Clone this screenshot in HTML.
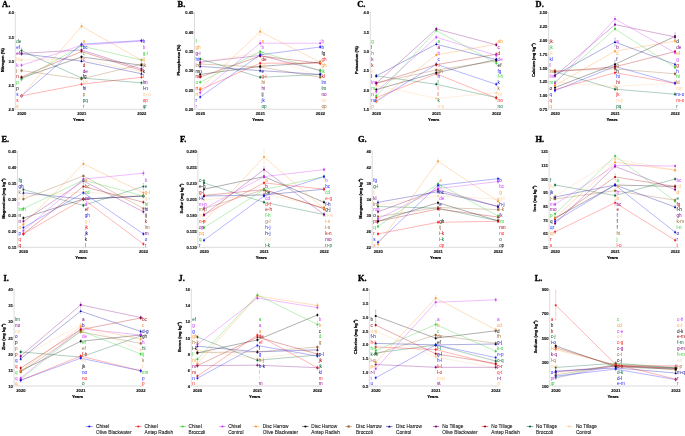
<!DOCTYPE html>
<html><head><meta charset="utf-8"><style>
html,body{margin:0;padding:0;background:#fff;}
svg{display:block;will-change:transform;}
text{font-family:"Liberation Sans",sans-serif;}
.ttl{font-family:"Liberation Serif",serif;font-weight:bold;font-size:8.4px;fill:#000;stroke:#000;stroke-width:0.35px;}
.ax{stroke:#c4c4c4;stroke-width:0.6;fill:none;}
.tk{font-size:4.1px;font-weight:bold;fill:#111;stroke:#111;stroke-width:0.12px;}
.yt{font-size:4.05px;font-weight:bold;fill:#000;stroke:#000;stroke-width:0.22px;}
.ln{fill:none;stroke-width:0.45;stroke-opacity:0.7;}
.eb{fill:none;stroke-width:0.35;stroke-opacity:0.6;}
.lb{font-size:4.6px;}
.yrs{font-size:4.2px;}
.lg{font-size:4.75px;fill:#111;stroke:#111;stroke-width:0.08px;}
</style></head><body>
<svg width="685" height="436" viewBox="0 0 685 436">
<rect width="685" height="436" fill="#fff"/>
<text x="2.1" y="6.5" class="ttl">A.</text>
<path d="M15.3 12.0V109.3H145.3" class="ax"/>
<path d="M14.3 12.50H15.3" class="ax"/>
<text transform="translate(14.10 14.30)" class="tk" text-anchor="end">4.0</text>
<path d="M14.3 36.70H15.3" class="ax"/>
<text transform="translate(14.10 38.50)" class="tk" text-anchor="end">3.5</text>
<path d="M14.3 60.90H15.3" class="ax"/>
<text transform="translate(14.10 62.70)" class="tk" text-anchor="end">3.0</text>
<path d="M14.3 85.10H15.3" class="ax"/>
<text transform="translate(14.10 86.90)" class="tk" text-anchor="end">2.5</text>
<path d="M14.3 109.30H15.3" class="ax"/>
<text transform="translate(14.10 111.10)" class="tk" text-anchor="end">2.0</text>
<path d="M21.5 109.3V110.3" class="ax"/>
<text x="21.70" y="115.00" class="tk" text-anchor="middle">2020</text>
<path d="M81.5 109.3V110.3" class="ax"/>
<text x="81.70" y="115.00" class="tk" text-anchor="middle">2021</text>
<path d="M141.5 109.3V110.3" class="ax"/>
<text x="141.70" y="115.00" class="tk" text-anchor="middle">2022</text>
<text x="78.7" y="120.70" class="yt yrs" text-anchor="middle">Years</text>
<text transform="translate(3.75 60.1) rotate(-90)" class="yt" text-anchor="middle">Nitrogen (%)</text>
<polyline points="21.5,60.0 81.5,59.0 141.5,71.7" stroke="#ffcc99" class="ln"/>
<polyline points="21.5,70.6 81.5,79.0 141.5,64.3" stroke="#996633" class="ln"/>
<polyline points="21.5,50.6 81.5,78.0 141.5,82.8" stroke="#006633" class="ln"/>
<polyline points="21.5,53.7 81.5,61.1 141.5,73.8" stroke="#000099" class="ln"/>
<polyline points="21.5,53.4 81.5,50.0 141.5,69.0" stroke="#800080" class="ln"/>
<polyline points="21.5,77.0 81.5,51.5 141.5,70.5" stroke="#b30000" class="ln"/>
<polyline points="21.5,78.0 81.5,56.9 141.5,65.3" stroke="#000000" class="ln"/>
<polyline points="21.5,79.5 81.5,46.0 141.5,60.0" stroke="#33cc33" class="ln"/>
<polyline points="21.5,65.3 81.5,45.3 141.5,41.1" stroke="#cc33ff" class="ln"/>
<polyline points="21.5,95.9 81.5,84.3 141.5,77.3" stroke="#ff1a1a" class="ln"/>
<polyline points="21.5,95.9 81.5,44.2 141.5,40.5" stroke="#1a1aff" class="ln"/>
<polyline points="21.5,95.9 81.5,26.3 141.5,60.1" stroke="#ff9933" class="ln"/>
<path d="M21.5 58.4V61.6M20.9 58.4H22.1M20.9 61.6H22.1" stroke="#ffcc99" class="eb"/>
<circle cx="21.5" cy="60.0" r="1.05" fill="#ffcc99"/>
<path d="M81.5 57.4V60.6M80.9 57.4H82.1M80.9 60.6H82.1" stroke="#ffcc99" class="eb"/>
<circle cx="81.5" cy="59.0" r="1.05" fill="#ffcc99"/>
<path d="M141.5 70.1V73.3M140.9 70.1H142.1M140.9 73.3H142.1" stroke="#ffcc99" class="eb"/>
<circle cx="141.5" cy="71.7" r="1.05" fill="#ffcc99"/>
<path d="M21.5 69.0V72.2M20.9 69.0H22.1M20.9 72.2H22.1" stroke="#996633" class="eb"/>
<rect x="20.50" y="69.60" width="2" height="2" fill="#996633"/>
<path d="M81.5 77.4V80.6M80.9 77.4H82.1M80.9 80.6H82.1" stroke="#996633" class="eb"/>
<rect x="80.50" y="78.00" width="2" height="2" fill="#996633"/>
<path d="M141.5 62.7V65.9M140.9 62.7H142.1M140.9 65.9H142.1" stroke="#996633" class="eb"/>
<rect x="140.50" y="63.30" width="2" height="2" fill="#996633"/>
<path d="M21.5 48.0V53.2M20.9 48.0H22.1M20.9 53.2H22.1" stroke="#006633" class="eb"/>
<circle cx="21.5" cy="50.6" r="1.05" fill="#006633"/>
<path d="M81.5 76.4V79.6M80.9 76.4H82.1M80.9 79.6H82.1" stroke="#006633" class="eb"/>
<circle cx="81.5" cy="78.0" r="1.05" fill="#006633"/>
<path d="M141.5 81.2V84.4M140.9 81.2H142.1M140.9 84.4H142.1" stroke="#006633" class="eb"/>
<circle cx="141.5" cy="82.8" r="1.05" fill="#006633"/>
<path d="M21.5 52.1V55.3M20.9 52.1H22.1M20.9 55.3H22.1" stroke="#000099" class="eb"/>
<path d="M21.50 52.40L22.70 54.60H20.30Z" fill="#000099"/>
<path d="M81.5 59.5V62.7M80.9 59.5H82.1M80.9 62.7H82.1" stroke="#000099" class="eb"/>
<path d="M81.50 59.80L82.70 62.00H80.30Z" fill="#000099"/>
<path d="M141.5 72.2V75.4M140.9 72.2H142.1M140.9 75.4H142.1" stroke="#000099" class="eb"/>
<path d="M141.50 72.50L142.70 74.70H140.30Z" fill="#000099"/>
<path d="M21.5 51.8V55.0M20.9 51.8H22.1M20.9 55.0H22.1" stroke="#800080" class="eb"/>
<circle cx="21.5" cy="53.4" r="1.05" fill="#800080"/>
<path d="M81.5 48.4V51.6M80.9 48.4H82.1M80.9 51.6H82.1" stroke="#800080" class="eb"/>
<circle cx="81.5" cy="50.0" r="1.05" fill="#800080"/>
<path d="M141.5 67.4V70.6M140.9 67.4H142.1M140.9 70.6H142.1" stroke="#800080" class="eb"/>
<circle cx="141.5" cy="69.0" r="1.05" fill="#800080"/>
<path d="M21.5 75.4V78.6M20.9 75.4H22.1M20.9 78.6H22.1" stroke="#b30000" class="eb"/>
<circle cx="21.5" cy="77.0" r="1.05" fill="#b30000"/>
<path d="M81.5 49.9V53.1M80.9 49.9H82.1M80.9 53.1H82.1" stroke="#b30000" class="eb"/>
<circle cx="81.5" cy="51.5" r="1.05" fill="#b30000"/>
<path d="M141.5 68.9V72.1M140.9 68.9H142.1M140.9 72.1H142.1" stroke="#b30000" class="eb"/>
<circle cx="141.5" cy="70.5" r="1.05" fill="#b30000"/>
<path d="M21.5 76.4V79.6M20.9 76.4H22.1M20.9 79.6H22.1" stroke="#000000" class="eb"/>
<circle cx="21.5" cy="78.0" r="1.05" fill="#000000"/>
<path d="M81.5 55.3V58.5M80.9 55.3H82.1M80.9 58.5H82.1" stroke="#000000" class="eb"/>
<circle cx="81.5" cy="56.9" r="1.05" fill="#000000"/>
<path d="M141.5 63.7V66.9M140.9 63.7H142.1M140.9 66.9H142.1" stroke="#000000" class="eb"/>
<circle cx="141.5" cy="65.3" r="1.05" fill="#000000"/>
<path d="M21.5 77.9V81.1M20.9 77.9H22.1M20.9 81.1H22.1" stroke="#33cc33" class="eb"/>
<circle cx="21.5" cy="79.5" r="1.05" fill="#33cc33"/>
<path d="M81.5 44.4V47.6M80.9 44.4H82.1M80.9 47.6H82.1" stroke="#33cc33" class="eb"/>
<circle cx="81.5" cy="46.0" r="1.05" fill="#33cc33"/>
<path d="M141.5 58.4V61.6M140.9 58.4H142.1M140.9 61.6H142.1" stroke="#33cc33" class="eb"/>
<circle cx="141.5" cy="60.0" r="1.05" fill="#33cc33"/>
<path d="M21.5 63.7V66.9M20.9 63.7H22.1M20.9 66.9H22.1" stroke="#cc33ff" class="eb"/>
<circle cx="21.5" cy="65.3" r="1.05" fill="#cc33ff"/>
<path d="M81.5 43.7V46.9M80.9 43.7H82.1M80.9 46.9H82.1" stroke="#cc33ff" class="eb"/>
<circle cx="81.5" cy="45.3" r="1.05" fill="#cc33ff"/>
<path d="M141.5 39.5V42.7M140.9 39.5H142.1M140.9 42.7H142.1" stroke="#cc33ff" class="eb"/>
<circle cx="141.5" cy="41.1" r="1.05" fill="#cc33ff"/>
<path d="M21.5 94.3V97.5M20.9 94.3H22.1M20.9 97.5H22.1" stroke="#ff1a1a" class="eb"/>
<circle cx="21.5" cy="95.9" r="1.05" fill="#ff1a1a"/>
<path d="M81.5 82.7V85.9M80.9 82.7H82.1M80.9 85.9H82.1" stroke="#ff1a1a" class="eb"/>
<circle cx="81.5" cy="84.3" r="1.05" fill="#ff1a1a"/>
<path d="M141.5 75.7V78.9M140.9 75.7H142.1M140.9 78.9H142.1" stroke="#ff1a1a" class="eb"/>
<circle cx="141.5" cy="77.3" r="1.05" fill="#ff1a1a"/>
<path d="M21.5 94.3V97.5M20.9 94.3H22.1M20.9 97.5H22.1" stroke="#1a1aff" class="eb"/>
<circle cx="21.5" cy="95.9" r="1.05" fill="#1a1aff"/>
<path d="M81.5 42.6V45.8M80.9 42.6H82.1M80.9 45.8H82.1" stroke="#1a1aff" class="eb"/>
<circle cx="81.5" cy="44.2" r="1.05" fill="#1a1aff"/>
<path d="M141.5 38.9V42.1M140.9 38.9H142.1M140.9 42.1H142.1" stroke="#1a1aff" class="eb"/>
<circle cx="141.5" cy="40.5" r="1.05" fill="#1a1aff"/>
<path d="M21.5 94.3V97.5M20.9 94.3H22.1M20.9 97.5H22.1" stroke="#ff9933" class="eb"/>
<circle cx="21.5" cy="95.9" r="1.05" fill="#ff9933"/>
<path d="M81.5 23.3V29.3M80.9 23.3H82.1M80.9 29.3H82.1" stroke="#ff9933" class="eb"/>
<circle cx="81.5" cy="26.3" r="1.05" fill="#ff9933"/>
<path d="M141.5 58.5V61.7M140.9 58.5H142.1M140.9 61.7H142.1" stroke="#ff9933" class="eb"/>
<circle cx="141.5" cy="60.1" r="1.05" fill="#ff9933"/>
<text x="16.3" y="43.20" class="lb" fill="#006633">de</text>
<text x="16.3" y="49.08" class="lb" fill="#1a1aff">ef</text>
<text x="16.3" y="54.96" class="lb" fill="#800080">ef</text>
<text x="16.3" y="60.84" class="lb" fill="#ffcc99">hi</text>
<text x="16.3" y="66.72" class="lb" fill="#cc33ff">k</text>
<text x="16.3" y="72.60" class="lb" fill="#996633">l</text>
<text x="16.3" y="78.48" class="lb" fill="#b30000">n</text>
<text x="16.3" y="84.36" class="lb" fill="#33cc33">p</text>
<text x="16.3" y="90.24" class="lb" fill="#000000">p</text>
<text x="16.3" y="96.12" class="lb" fill="#1a1aff">s</text>
<text x="16.3" y="102.00" class="lb" fill="#ff1a1a">s</text>
<text x="16.3" y="107.88" class="lb" fill="#ff9933">s</text>
<text x="82.8" y="43.20" class="lb" fill="#ff9933">a</text>
<text x="82.8" y="49.08" class="lb" fill="#1a1aff">bc</text>
<text x="82.8" y="54.96" class="lb" fill="#33cc33">c</text>
<text x="82.8" y="60.84" class="lb" fill="#cc33ff">c</text>
<text x="82.8" y="66.72" class="lb" fill="#b30000">d</text>
<text x="82.8" y="72.60" class="lb" fill="#800080">de</text>
<text x="82.8" y="78.48" class="lb" fill="#000000">fg</text>
<text x="82.8" y="84.36" class="lb" fill="#ffcc99">f-h</text>
<text x="82.8" y="90.24" class="lb" fill="#000099">hi</text>
<text x="82.8" y="96.12" class="lb" fill="#996633">p</text>
<text x="82.8" y="102.00" class="lb" fill="#006633">pq</text>
<text x="82.8" y="107.88" class="lb" fill="#ff1a1a">r</text>
<text x="142.8" y="43.20" class="lb" fill="#1a1aff">b</text>
<text x="142.8" y="49.08" class="lb" fill="#cc33ff">b</text>
<text x="142.8" y="54.96" class="lb" fill="#33cc33">g-i</text>
<text x="142.8" y="60.84" class="lb" fill="#ff9933">ij</text>
<text x="142.8" y="66.72" class="lb" fill="#996633">jk</text>
<text x="142.8" y="72.60" class="lb" fill="#000000">k</text>
<text x="142.8" y="78.48" class="lb" fill="#ff1a1a">l</text>
<text x="142.8" y="84.36" class="lb" fill="#800080">lm</text>
<text x="142.8" y="90.24" class="lb" fill="#000099">l-n</text>
<text x="142.8" y="96.12" class="lb" fill="#ffcc99">m-o</text>
<text x="142.8" y="102.00" class="lb" fill="#ff1a1a">op</text>
<text x="142.8" y="107.88" class="lb" fill="#006633">qr</text>
<text x="177.6" y="6.5" class="ttl">B.</text>
<path d="M194.5 12.0V109.3H324.5" class="ax"/>
<path d="M193.5 12.50H194.5" class="ax"/>
<text transform="translate(193.30 14.30)" class="tk" text-anchor="end">0.45</text>
<path d="M193.5 31.86H194.5" class="ax"/>
<text transform="translate(193.30 33.66)" class="tk" text-anchor="end">0.40</text>
<path d="M193.5 51.22H194.5" class="ax"/>
<text transform="translate(193.30 53.02)" class="tk" text-anchor="end">0.35</text>
<path d="M193.5 70.58H194.5" class="ax"/>
<text transform="translate(193.30 72.38)" class="tk" text-anchor="end">0.30</text>
<path d="M193.5 89.94H194.5" class="ax"/>
<text transform="translate(193.30 91.74)" class="tk" text-anchor="end">0.25</text>
<path d="M193.5 109.30H194.5" class="ax"/>
<text transform="translate(193.30 111.10)" class="tk" text-anchor="end">0.20</text>
<path d="M200.2 109.3V110.3" class="ax"/>
<text x="200.40" y="115.00" class="tk" text-anchor="middle">2020</text>
<path d="M260.2 109.3V110.3" class="ax"/>
<text x="260.40" y="115.00" class="tk" text-anchor="middle">2021</text>
<path d="M320.2 109.3V110.3" class="ax"/>
<text x="320.40" y="115.00" class="tk" text-anchor="middle">2022</text>
<text x="257.9" y="120.70" class="yt yrs" text-anchor="middle">Years</text>
<text transform="translate(179.6 60.1) rotate(-90)" class="yt" text-anchor="middle">Phosphorus (%)</text>
<polyline points="200.2,62.2 260.2,53.0 320.2,77.0" stroke="#ffcc99" class="ln"/>
<polyline points="200.2,64.0 260.2,67.0 320.2,77.3" stroke="#996633" class="ln"/>
<polyline points="200.2,59.0 260.2,77.3 320.2,74.4" stroke="#006633" class="ln"/>
<polyline points="200.2,66.4 260.2,70.6 320.2,74.4" stroke="#000099" class="ln"/>
<polyline points="200.2,62.2 260.2,55.4 320.2,70.6" stroke="#800080" class="ln"/>
<polyline points="200.2,77.0 260.2,56.0 320.2,63.2" stroke="#b30000" class="ln"/>
<polyline points="200.2,74.4 260.2,66.4 320.2,62.2" stroke="#000000" class="ln"/>
<polyline points="200.2,82.2 260.2,51.6 320.2,70.6" stroke="#33cc33" class="ln"/>
<polyline points="200.2,89.6 260.2,63.2 320.2,63.2" stroke="#ff1a1a" class="ln"/>
<polyline points="200.2,92.7 260.2,43.2 320.2,43.2" stroke="#cc33ff" class="ln"/>
<polyline points="200.2,97.0 260.2,54.8 320.2,47.0" stroke="#1a1aff" class="ln"/>
<polyline points="200.2,88.5 260.2,31.6 320.2,62.2" stroke="#ff9933" class="ln"/>
<path d="M200.2 60.6V63.8M199.6 60.6H200.79999999999998M199.6 63.8H200.79999999999998" stroke="#ffcc99" class="eb"/>
<circle cx="200.2" cy="62.2" r="1.05" fill="#ffcc99"/>
<path d="M260.2 51.4V54.6M259.59999999999997 51.4H260.8M259.59999999999997 54.6H260.8" stroke="#ffcc99" class="eb"/>
<circle cx="260.2" cy="53.0" r="1.05" fill="#ffcc99"/>
<path d="M320.2 75.4V78.6M319.59999999999997 75.4H320.8M319.59999999999997 78.6H320.8" stroke="#ffcc99" class="eb"/>
<circle cx="320.2" cy="77.0" r="1.05" fill="#ffcc99"/>
<path d="M200.2 62.4V65.6M199.6 62.4H200.79999999999998M199.6 65.6H200.79999999999998" stroke="#996633" class="eb"/>
<rect x="199.20" y="63.00" width="2" height="2" fill="#996633"/>
<path d="M260.2 65.4V68.6M259.59999999999997 65.4H260.8M259.59999999999997 68.6H260.8" stroke="#996633" class="eb"/>
<rect x="259.20" y="66.00" width="2" height="2" fill="#996633"/>
<path d="M320.2 75.7V78.9M319.59999999999997 75.7H320.8M319.59999999999997 78.9H320.8" stroke="#996633" class="eb"/>
<rect x="319.20" y="76.30" width="2" height="2" fill="#996633"/>
<path d="M200.2 57.4V60.6M199.6 57.4H200.79999999999998M199.6 60.6H200.79999999999998" stroke="#006633" class="eb"/>
<circle cx="200.2" cy="59.0" r="1.05" fill="#006633"/>
<path d="M260.2 75.7V78.9M259.59999999999997 75.7H260.8M259.59999999999997 78.9H260.8" stroke="#006633" class="eb"/>
<circle cx="260.2" cy="77.3" r="1.05" fill="#006633"/>
<path d="M320.2 72.8V76.0M319.59999999999997 72.8H320.8M319.59999999999997 76.0H320.8" stroke="#006633" class="eb"/>
<circle cx="320.2" cy="74.4" r="1.05" fill="#006633"/>
<path d="M200.2 64.8V68.0M199.6 64.8H200.79999999999998M199.6 68.0H200.79999999999998" stroke="#000099" class="eb"/>
<path d="M200.20 65.10L201.40 67.30H199.00Z" fill="#000099"/>
<path d="M260.2 69.0V72.2M259.59999999999997 69.0H260.8M259.59999999999997 72.2H260.8" stroke="#000099" class="eb"/>
<path d="M260.20 69.30L261.40 71.50H259.00Z" fill="#000099"/>
<path d="M320.2 72.8V76.0M319.59999999999997 72.8H320.8M319.59999999999997 76.0H320.8" stroke="#000099" class="eb"/>
<path d="M320.20 73.10L321.40 75.30H319.00Z" fill="#000099"/>
<path d="M200.2 60.6V63.8M199.6 60.6H200.79999999999998M199.6 63.8H200.79999999999998" stroke="#800080" class="eb"/>
<circle cx="200.2" cy="62.2" r="1.05" fill="#800080"/>
<path d="M260.2 53.8V57.0M259.59999999999997 53.8H260.8M259.59999999999997 57.0H260.8" stroke="#800080" class="eb"/>
<circle cx="260.2" cy="55.4" r="1.05" fill="#800080"/>
<path d="M320.2 69.0V72.2M319.59999999999997 69.0H320.8M319.59999999999997 72.2H320.8" stroke="#800080" class="eb"/>
<circle cx="320.2" cy="70.6" r="1.05" fill="#800080"/>
<path d="M200.2 75.4V78.6M199.6 75.4H200.79999999999998M199.6 78.6H200.79999999999998" stroke="#b30000" class="eb"/>
<circle cx="200.2" cy="77.0" r="1.05" fill="#b30000"/>
<path d="M260.2 54.4V57.6M259.59999999999997 54.4H260.8M259.59999999999997 57.6H260.8" stroke="#b30000" class="eb"/>
<circle cx="260.2" cy="56.0" r="1.05" fill="#b30000"/>
<path d="M320.2 61.6V64.8M319.59999999999997 61.6H320.8M319.59999999999997 64.8H320.8" stroke="#b30000" class="eb"/>
<circle cx="320.2" cy="63.2" r="1.05" fill="#b30000"/>
<path d="M200.2 72.8V76.0M199.6 72.8H200.79999999999998M199.6 76.0H200.79999999999998" stroke="#000000" class="eb"/>
<circle cx="200.2" cy="74.4" r="1.05" fill="#000000"/>
<path d="M260.2 64.8V68.0M259.59999999999997 64.8H260.8M259.59999999999997 68.0H260.8" stroke="#000000" class="eb"/>
<circle cx="260.2" cy="66.4" r="1.05" fill="#000000"/>
<path d="M320.2 60.6V63.8M319.59999999999997 60.6H320.8M319.59999999999997 63.8H320.8" stroke="#000000" class="eb"/>
<circle cx="320.2" cy="62.2" r="1.05" fill="#000000"/>
<path d="M200.2 80.6V83.8M199.6 80.6H200.79999999999998M199.6 83.8H200.79999999999998" stroke="#33cc33" class="eb"/>
<circle cx="200.2" cy="82.2" r="1.05" fill="#33cc33"/>
<path d="M260.2 50.0V53.2M259.59999999999997 50.0H260.8M259.59999999999997 53.2H260.8" stroke="#33cc33" class="eb"/>
<circle cx="260.2" cy="51.6" r="1.05" fill="#33cc33"/>
<path d="M320.2 69.0V72.2M319.59999999999997 69.0H320.8M319.59999999999997 72.2H320.8" stroke="#33cc33" class="eb"/>
<circle cx="320.2" cy="70.6" r="1.05" fill="#33cc33"/>
<path d="M200.2 88.0V91.2M199.6 88.0H200.79999999999998M199.6 91.2H200.79999999999998" stroke="#ff1a1a" class="eb"/>
<circle cx="200.2" cy="89.6" r="1.05" fill="#ff1a1a"/>
<path d="M260.2 61.6V64.8M259.59999999999997 61.6H260.8M259.59999999999997 64.8H260.8" stroke="#ff1a1a" class="eb"/>
<circle cx="260.2" cy="63.2" r="1.05" fill="#ff1a1a"/>
<path d="M320.2 61.6V64.8M319.59999999999997 61.6H320.8M319.59999999999997 64.8H320.8" stroke="#ff1a1a" class="eb"/>
<circle cx="320.2" cy="63.2" r="1.05" fill="#ff1a1a"/>
<path d="M200.2 91.1V94.3M199.6 91.1H200.79999999999998M199.6 94.3H200.79999999999998" stroke="#cc33ff" class="eb"/>
<circle cx="200.2" cy="92.7" r="1.05" fill="#cc33ff"/>
<path d="M260.2 40.2V46.2M259.59999999999997 40.2H260.8M259.59999999999997 46.2H260.8" stroke="#cc33ff" class="eb"/>
<circle cx="260.2" cy="43.2" r="1.05" fill="#cc33ff"/>
<path d="M320.2 40.2V46.2M319.59999999999997 40.2H320.8M319.59999999999997 46.2H320.8" stroke="#cc33ff" class="eb"/>
<circle cx="320.2" cy="43.2" r="1.05" fill="#cc33ff"/>
<path d="M200.2 95.4V98.6M199.6 95.4H200.79999999999998M199.6 98.6H200.79999999999998" stroke="#1a1aff" class="eb"/>
<circle cx="200.2" cy="97.0" r="1.05" fill="#1a1aff"/>
<path d="M260.2 53.2V56.4M259.59999999999997 53.2H260.8M259.59999999999997 56.4H260.8" stroke="#1a1aff" class="eb"/>
<circle cx="260.2" cy="54.8" r="1.05" fill="#1a1aff"/>
<path d="M320.2 45.4V48.6M319.59999999999997 45.4H320.8M319.59999999999997 48.6H320.8" stroke="#1a1aff" class="eb"/>
<circle cx="320.2" cy="47.0" r="1.05" fill="#1a1aff"/>
<path d="M200.2 86.9V90.1M199.6 86.9H200.79999999999998M199.6 90.1H200.79999999999998" stroke="#ff9933" class="eb"/>
<circle cx="200.2" cy="88.5" r="1.05" fill="#ff9933"/>
<path d="M260.2 27.6V35.6M259.59999999999997 27.6H260.8M259.59999999999997 35.6H260.8" stroke="#ff9933" class="eb"/>
<circle cx="260.2" cy="31.6" r="1.05" fill="#ff9933"/>
<path d="M320.2 60.6V63.8M319.59999999999997 60.6H320.8M319.59999999999997 63.8H320.8" stroke="#ff9933" class="eb"/>
<circle cx="320.2" cy="62.2" r="1.05" fill="#ff9933"/>
<text x="195.5" y="43.20" class="lb" fill="#33cc33">f</text>
<text x="195.5" y="49.08" class="lb" fill="#ff9933">gh</text>
<text x="195.5" y="54.96" class="lb" fill="#800080">g-i</text>
<text x="195.5" y="60.84" class="lb" fill="#1a1aff">hi</text>
<text x="195.5" y="66.72" class="lb" fill="#996633">lm</text>
<text x="195.5" y="72.60" class="lb" fill="#000000">mn</text>
<text x="195.5" y="78.48" class="lb" fill="#b30000">mo</text>
<text x="195.5" y="84.36" class="lb" fill="#33cc33">o</text>
<text x="195.5" y="90.24" class="lb" fill="#ff1a1a">rt</text>
<text x="195.5" y="96.12" class="lb" fill="#ff9933">rt</text>
<text x="195.5" y="102.00" class="lb" fill="#1a1aff">r</text>
<text x="195.5" y="107.88" class="lb" fill="#cc33ff">r</text>
<text x="261.5" y="43.20" class="lb" fill="#ff9933">a</text>
<text x="261.5" y="49.08" class="lb" fill="#cc33ff">b</text>
<text x="261.5" y="54.96" class="lb" fill="#33cc33">c</text>
<text x="261.5" y="60.84" class="lb" fill="#b30000">de</text>
<text x="261.5" y="66.72" class="lb" fill="#ffcc99">ef</text>
<text x="261.5" y="72.60" class="lb" fill="#000099">e</text>
<text x="261.5" y="78.48" class="lb" fill="#ff1a1a">g-i</text>
<text x="261.5" y="84.36" class="lb" fill="#996633">hi</text>
<text x="261.5" y="90.24" class="lb" fill="#800080">hi</text>
<text x="261.5" y="96.12" class="lb" fill="#000000">ij</text>
<text x="261.5" y="102.00" class="lb" fill="#1a1aff">jk</text>
<text x="261.5" y="107.88" class="lb" fill="#006633">op</text>
<text x="321.5" y="43.20" class="lb" fill="#cc33ff">b</text>
<text x="321.5" y="49.08" class="lb" fill="#1a1aff">b</text>
<text x="321.5" y="54.96" class="lb" fill="#000000">fg</text>
<text x="321.5" y="60.84" class="lb" fill="#ff1a1a">gh</text>
<text x="321.5" y="66.72" class="lb" fill="#ff9933">gh</text>
<text x="321.5" y="72.60" class="lb" fill="#33cc33">jk</text>
<text x="321.5" y="78.48" class="lb" fill="#b30000">kl</text>
<text x="321.5" y="84.36" class="lb" fill="#1a1aff">lm</text>
<text x="321.5" y="90.24" class="lb" fill="#006633">lm</text>
<text x="321.5" y="96.12" class="lb" fill="#800080">no</text>
<text x="321.5" y="102.00" class="lb" fill="#ffcc99">no</text>
<text x="321.5" y="107.88" class="lb" fill="#996633">op</text>
<text x="357.3" y="6.5" class="ttl">C.</text>
<path d="M370.3 12.0V109.3H500.3" class="ax"/>
<path d="M369.3 12.50H370.3" class="ax"/>
<text transform="translate(369.10 14.30)" class="tk" text-anchor="end">4.0</text>
<path d="M369.3 31.86H370.3" class="ax"/>
<text transform="translate(369.10 33.66)" class="tk" text-anchor="end">3.5</text>
<path d="M369.3 51.22H370.3" class="ax"/>
<text transform="translate(369.10 53.02)" class="tk" text-anchor="end">3.0</text>
<path d="M369.3 70.58H370.3" class="ax"/>
<text transform="translate(369.10 72.38)" class="tk" text-anchor="end">2.5</text>
<path d="M369.3 89.94H370.3" class="ax"/>
<text transform="translate(369.10 91.74)" class="tk" text-anchor="end">2.0</text>
<path d="M369.3 109.30H370.3" class="ax"/>
<text transform="translate(369.10 111.10)" class="tk" text-anchor="end">1.5</text>
<path d="M376.3 109.3V110.3" class="ax"/>
<text x="376.50" y="115.00" class="tk" text-anchor="middle">2020</text>
<path d="M436.3 109.3V110.3" class="ax"/>
<text x="436.50" y="115.00" class="tk" text-anchor="middle">2021</text>
<path d="M496.3 109.3V110.3" class="ax"/>
<text x="496.50" y="115.00" class="tk" text-anchor="middle">2022</text>
<text x="433.7" y="120.70" class="yt yrs" text-anchor="middle">Years</text>
<text transform="translate(358.2 60.1) rotate(-90)" class="yt" text-anchor="middle">Potassium (%)</text>
<polyline points="376.3,85.4 436.3,98.4 496.3,92.7" stroke="#ffcc99" class="ln"/>
<polyline points="376.3,75.9 436.3,84.3 496.3,97.6" stroke="#006633" class="ln"/>
<polyline points="376.3,97.6 436.3,73.8 496.3,98.0" stroke="#ff1a1a" class="ln"/>
<polyline points="376.3,101.2 436.3,64.3 496.3,84.3" stroke="#1a1aff" class="ln"/>
<polyline points="376.3,83.0 436.3,70.0 496.3,61.0" stroke="#996633" class="ln"/>
<polyline points="376.3,83.3 436.3,64.7 496.3,54.2" stroke="#b30000" class="ln"/>
<polyline points="376.3,89.6 436.3,72.7 496.3,59.6" stroke="#000000" class="ln"/>
<polyline points="376.3,75.9 436.3,44.2 496.3,59.6" stroke="#000099" class="ln"/>
<polyline points="376.3,101.5 436.3,55.0 496.3,44.2" stroke="#ff9933" class="ln"/>
<polyline points="376.3,91.7 436.3,37.3 496.3,55.4" stroke="#cc33ff" class="ln"/>
<polyline points="376.3,95.9 436.3,30.5 496.3,63.2" stroke="#33cc33" class="ln"/>
<polyline points="376.3,83.3 436.3,28.9 496.3,44.9" stroke="#800080" class="ln"/>
<path d="M376.3 83.8V87.0M375.7 83.8H376.90000000000003M375.7 87.0H376.90000000000003" stroke="#ffcc99" class="eb"/>
<circle cx="376.3" cy="85.4" r="1.05" fill="#ffcc99"/>
<path d="M436.3 96.8V100.0M435.7 96.8H436.90000000000003M435.7 100.0H436.90000000000003" stroke="#ffcc99" class="eb"/>
<circle cx="436.3" cy="98.4" r="1.05" fill="#ffcc99"/>
<path d="M496.3 91.1V94.3M495.7 91.1H496.90000000000003M495.7 94.3H496.90000000000003" stroke="#ffcc99" class="eb"/>
<circle cx="496.3" cy="92.7" r="1.05" fill="#ffcc99"/>
<path d="M376.3 74.3V77.5M375.7 74.3H376.90000000000003M375.7 77.5H376.90000000000003" stroke="#006633" class="eb"/>
<circle cx="376.3" cy="75.9" r="1.05" fill="#006633"/>
<path d="M436.3 82.7V85.9M435.7 82.7H436.90000000000003M435.7 85.9H436.90000000000003" stroke="#006633" class="eb"/>
<circle cx="436.3" cy="84.3" r="1.05" fill="#006633"/>
<path d="M496.3 96.0V99.2M495.7 96.0H496.90000000000003M495.7 99.2H496.90000000000003" stroke="#006633" class="eb"/>
<circle cx="496.3" cy="97.6" r="1.05" fill="#006633"/>
<path d="M376.3 96.0V99.2M375.7 96.0H376.90000000000003M375.7 99.2H376.90000000000003" stroke="#ff1a1a" class="eb"/>
<circle cx="376.3" cy="97.6" r="1.05" fill="#ff1a1a"/>
<path d="M436.3 72.2V75.4M435.7 72.2H436.90000000000003M435.7 75.4H436.90000000000003" stroke="#ff1a1a" class="eb"/>
<circle cx="436.3" cy="73.8" r="1.05" fill="#ff1a1a"/>
<path d="M496.3 96.4V99.6M495.7 96.4H496.90000000000003M495.7 99.6H496.90000000000003" stroke="#ff1a1a" class="eb"/>
<circle cx="496.3" cy="98.0" r="1.05" fill="#ff1a1a"/>
<path d="M376.3 99.6V102.8M375.7 99.6H376.90000000000003M375.7 102.8H376.90000000000003" stroke="#1a1aff" class="eb"/>
<circle cx="376.3" cy="101.2" r="1.05" fill="#1a1aff"/>
<path d="M436.3 62.7V65.9M435.7 62.7H436.90000000000003M435.7 65.9H436.90000000000003" stroke="#1a1aff" class="eb"/>
<circle cx="436.3" cy="64.3" r="1.05" fill="#1a1aff"/>
<path d="M496.3 82.7V85.9M495.7 82.7H496.90000000000003M495.7 85.9H496.90000000000003" stroke="#1a1aff" class="eb"/>
<circle cx="496.3" cy="84.3" r="1.05" fill="#1a1aff"/>
<path d="M376.3 81.4V84.6M375.7 81.4H376.90000000000003M375.7 84.6H376.90000000000003" stroke="#996633" class="eb"/>
<rect x="375.30" y="82.00" width="2" height="2" fill="#996633"/>
<path d="M436.3 68.4V71.6M435.7 68.4H436.90000000000003M435.7 71.6H436.90000000000003" stroke="#996633" class="eb"/>
<rect x="435.30" y="69.00" width="2" height="2" fill="#996633"/>
<path d="M496.3 59.4V62.6M495.7 59.4H496.90000000000003M495.7 62.6H496.90000000000003" stroke="#996633" class="eb"/>
<rect x="495.30" y="60.00" width="2" height="2" fill="#996633"/>
<path d="M376.3 81.7V84.9M375.7 81.7H376.90000000000003M375.7 84.9H376.90000000000003" stroke="#b30000" class="eb"/>
<circle cx="376.3" cy="83.3" r="1.05" fill="#b30000"/>
<path d="M436.3 63.1V66.3M435.7 63.1H436.90000000000003M435.7 66.3H436.90000000000003" stroke="#b30000" class="eb"/>
<circle cx="436.3" cy="64.7" r="1.05" fill="#b30000"/>
<path d="M496.3 52.6V55.8M495.7 52.6H496.90000000000003M495.7 55.8H496.90000000000003" stroke="#b30000" class="eb"/>
<circle cx="496.3" cy="54.2" r="1.05" fill="#b30000"/>
<path d="M376.3 88.0V91.2M375.7 88.0H376.90000000000003M375.7 91.2H376.90000000000003" stroke="#000000" class="eb"/>
<circle cx="376.3" cy="89.6" r="1.05" fill="#000000"/>
<path d="M436.3 71.1V74.3M435.7 71.1H436.90000000000003M435.7 74.3H436.90000000000003" stroke="#000000" class="eb"/>
<circle cx="436.3" cy="72.7" r="1.05" fill="#000000"/>
<path d="M496.3 58.0V61.2M495.7 58.0H496.90000000000003M495.7 61.2H496.90000000000003" stroke="#000000" class="eb"/>
<circle cx="496.3" cy="59.6" r="1.05" fill="#000000"/>
<path d="M376.3 74.3V77.5M375.7 74.3H376.90000000000003M375.7 77.5H376.90000000000003" stroke="#000099" class="eb"/>
<path d="M376.30 74.60L377.50 76.80H375.10Z" fill="#000099"/>
<path d="M436.3 42.6V45.8M435.7 42.6H436.90000000000003M435.7 45.8H436.90000000000003" stroke="#000099" class="eb"/>
<path d="M436.30 42.90L437.50 45.10H435.10Z" fill="#000099"/>
<path d="M496.3 58.0V61.2M495.7 58.0H496.90000000000003M495.7 61.2H496.90000000000003" stroke="#000099" class="eb"/>
<path d="M496.30 58.30L497.50 60.50H495.10Z" fill="#000099"/>
<path d="M376.3 99.9V103.1M375.7 99.9H376.90000000000003M375.7 103.1H376.90000000000003" stroke="#ff9933" class="eb"/>
<circle cx="376.3" cy="101.5" r="1.05" fill="#ff9933"/>
<path d="M436.3 53.4V56.6M435.7 53.4H436.90000000000003M435.7 56.6H436.90000000000003" stroke="#ff9933" class="eb"/>
<circle cx="436.3" cy="55.0" r="1.05" fill="#ff9933"/>
<path d="M496.3 42.6V45.8M495.7 42.6H496.90000000000003M495.7 45.8H496.90000000000003" stroke="#ff9933" class="eb"/>
<circle cx="496.3" cy="44.2" r="1.05" fill="#ff9933"/>
<path d="M376.3 90.1V93.3M375.7 90.1H376.90000000000003M375.7 93.3H376.90000000000003" stroke="#cc33ff" class="eb"/>
<circle cx="376.3" cy="91.7" r="1.05" fill="#cc33ff"/>
<path d="M436.3 35.7V38.9M435.7 35.7H436.90000000000003M435.7 38.9H436.90000000000003" stroke="#cc33ff" class="eb"/>
<circle cx="436.3" cy="37.3" r="1.05" fill="#cc33ff"/>
<path d="M496.3 53.8V57.0M495.7 53.8H496.90000000000003M495.7 57.0H496.90000000000003" stroke="#cc33ff" class="eb"/>
<circle cx="496.3" cy="55.4" r="1.05" fill="#cc33ff"/>
<path d="M376.3 94.3V97.5M375.7 94.3H376.90000000000003M375.7 97.5H376.90000000000003" stroke="#33cc33" class="eb"/>
<circle cx="376.3" cy="95.9" r="1.05" fill="#33cc33"/>
<path d="M436.3 28.9V32.1M435.7 28.9H436.90000000000003M435.7 32.1H436.90000000000003" stroke="#33cc33" class="eb"/>
<circle cx="436.3" cy="30.5" r="1.05" fill="#33cc33"/>
<path d="M496.3 61.6V64.8M495.7 61.6H496.90000000000003M495.7 64.8H496.90000000000003" stroke="#33cc33" class="eb"/>
<circle cx="496.3" cy="63.2" r="1.05" fill="#33cc33"/>
<path d="M376.3 81.7V84.9M375.7 81.7H376.90000000000003M375.7 84.9H376.90000000000003" stroke="#800080" class="eb"/>
<circle cx="376.3" cy="83.3" r="1.05" fill="#800080"/>
<path d="M436.3 27.3V30.5M435.7 27.3H436.90000000000003M435.7 30.5H436.90000000000003" stroke="#800080" class="eb"/>
<circle cx="436.3" cy="28.9" r="1.05" fill="#800080"/>
<path d="M496.3 43.3V46.5M495.7 43.3H496.90000000000003M495.7 46.5H496.90000000000003" stroke="#800080" class="eb"/>
<circle cx="496.3" cy="44.9" r="1.05" fill="#800080"/>
<text x="371.3" y="43.20" class="lb" fill="#33cc33">g</text>
<text x="371.3" y="49.08" class="lb" fill="#1a1aff">l</text>
<text x="371.3" y="54.96" class="lb" fill="#996633">h</text>
<text x="371.3" y="60.84" class="lb" fill="#800080">k</text>
<text x="371.3" y="66.72" class="lb" fill="#b30000">k</text>
<text x="371.3" y="72.60" class="lb" fill="#ffcc99">k</text>
<text x="371.3" y="78.48" class="lb" fill="#000000">l</text>
<text x="371.3" y="84.36" class="lb" fill="#cc33ff">lm</text>
<text x="371.3" y="90.24" class="lb" fill="#33cc33">m</text>
<text x="371.3" y="96.12" class="lb" fill="#ff1a1a">n</text>
<text x="371.3" y="102.00" class="lb" fill="#1a1aff">no</text>
<text x="371.3" y="107.88" class="lb" fill="#ff9933">p</text>
<text x="437.6" y="43.20" class="lb" fill="#33cc33">a</text>
<text x="437.6" y="49.08" class="lb" fill="#800080">a</text>
<text x="437.6" y="54.96" class="lb" fill="#cc33ff">b</text>
<text x="437.6" y="60.84" class="lb" fill="#1a1aff">c</text>
<text x="437.6" y="66.72" class="lb" fill="#ff9933">d</text>
<text x="437.6" y="72.60" class="lb" fill="#996633">gh</text>
<text x="437.6" y="78.48" class="lb" fill="#1a1aff">h</text>
<text x="437.6" y="84.36" class="lb" fill="#006633">l</text>
<text x="437.6" y="90.24" class="lb" fill="#ff1a1a">l</text>
<text x="437.6" y="96.12" class="lb" fill="#b30000">l</text>
<text x="437.6" y="102.00" class="lb" fill="#006633">k</text>
<text x="437.6" y="107.88" class="lb" fill="#ffcc99">n-p</text>
<text x="497.6" y="43.20" class="lb" fill="#ff9933">ab</text>
<text x="497.6" y="49.08" class="lb" fill="#800080">c</text>
<text x="497.6" y="54.96" class="lb" fill="#b30000">d</text>
<text x="497.6" y="60.84" class="lb" fill="#cc33ff">de</text>
<text x="497.6" y="66.72" class="lb" fill="#000000">ef</text>
<text x="497.6" y="72.60" class="lb" fill="#1a1aff">fg</text>
<text x="497.6" y="78.48" class="lb" fill="#33cc33">f-h</text>
<text x="497.6" y="84.36" class="lb" fill="#000099">k</text>
<text x="497.6" y="90.24" class="lb" fill="#996633">k</text>
<text x="497.6" y="96.12" class="lb" fill="#ffcc99">lm</text>
<text x="497.6" y="102.00" class="lb" fill="#ff1a1a">no</text>
<text x="497.6" y="107.88" class="lb" fill="#006633">no</text>
<text x="535.6" y="6.5" class="ttl">D.</text>
<path d="M548.6 12.0V109.3H678.6" class="ax"/>
<path d="M547.6 12.50H548.6" class="ax"/>
<text transform="translate(547.40 14.30)" class="tk" text-anchor="end">2.50</text>
<path d="M547.6 26.33H548.6" class="ax"/>
<text transform="translate(547.40 28.13)" class="tk" text-anchor="end">2.25</text>
<path d="M547.6 40.16H548.6" class="ax"/>
<text transform="translate(547.40 41.96)" class="tk" text-anchor="end">2.00</text>
<path d="M547.6 53.99H548.6" class="ax"/>
<text transform="translate(547.40 55.79)" class="tk" text-anchor="end">1.75</text>
<path d="M547.6 67.81H548.6" class="ax"/>
<text transform="translate(547.40 69.61)" class="tk" text-anchor="end">1.50</text>
<path d="M547.6 81.64H548.6" class="ax"/>
<text transform="translate(547.40 83.44)" class="tk" text-anchor="end">1.25</text>
<path d="M547.6 95.47H548.6" class="ax"/>
<text transform="translate(547.40 97.27)" class="tk" text-anchor="end">1.00</text>
<path d="M547.6 109.30H548.6" class="ax"/>
<text transform="translate(547.40 111.10)" class="tk" text-anchor="end">0.75</text>
<path d="M555.0 109.3V110.3" class="ax"/>
<text x="555.20" y="115.00" class="tk" text-anchor="middle">2020</text>
<path d="M615.0 109.3V110.3" class="ax"/>
<text x="615.20" y="115.00" class="tk" text-anchor="middle">2021</text>
<path d="M675.0 109.3V110.3" class="ax"/>
<text x="675.20" y="115.00" class="tk" text-anchor="middle">2022</text>
<text x="612.0" y="120.70" class="yt yrs" text-anchor="middle">Years</text>
<text transform="translate(535.4 60.1) rotate(-90)" class="yt" text-anchor="middle">Calcium (mg kg⁻¹)</text>
<polyline points="555.0,82.0 615.0,86.4 675.0,83.0" stroke="#ffcc99" class="ln"/>
<polyline points="555.0,71.7 615.0,89.2 675.0,94.2" stroke="#006633" class="ln"/>
<polyline points="555.0,89.6 615.0,72.7 675.0,83.3" stroke="#ff1a1a" class="ln"/>
<polyline points="555.0,90.6 615.0,66.4 675.0,83.3" stroke="#1a1aff" class="ln"/>
<polyline points="555.0,70.6 615.0,68.9 675.0,73.8" stroke="#996633" class="ln"/>
<polyline points="555.0,71.7 615.0,66.8 675.0,51.6" stroke="#b30000" class="ln"/>
<polyline points="555.0,87.5 615.0,64.3 675.0,36.4" stroke="#000000" class="ln"/>
<polyline points="555.0,85.4 615.0,51.2 675.0,41.1" stroke="#ff9933" class="ln"/>
<polyline points="555.0,75.2 615.0,42.1 675.0,64.3" stroke="#000099" class="ln"/>
<polyline points="555.0,82.2 615.0,28.9 675.0,67.4" stroke="#33cc33" class="ln"/>
<polyline points="555.0,75.9 615.0,24.6 675.0,36.9" stroke="#800080" class="ln"/>
<polyline points="555.0,83.3 615.0,19.0 675.0,52.7" stroke="#cc33ff" class="ln"/>
<path d="M555.0 80.4V83.6M554.4 80.4H555.6M554.4 83.6H555.6" stroke="#ffcc99" class="eb"/>
<circle cx="555.0" cy="82.0" r="1.05" fill="#ffcc99"/>
<path d="M615.0 84.8V88.0M614.4 84.8H615.6M614.4 88.0H615.6" stroke="#ffcc99" class="eb"/>
<circle cx="615.0" cy="86.4" r="1.05" fill="#ffcc99"/>
<path d="M675.0 81.4V84.6M674.4 81.4H675.6M674.4 84.6H675.6" stroke="#ffcc99" class="eb"/>
<circle cx="675.0" cy="83.0" r="1.05" fill="#ffcc99"/>
<path d="M555.0 70.1V73.3M554.4 70.1H555.6M554.4 73.3H555.6" stroke="#006633" class="eb"/>
<circle cx="555.0" cy="71.7" r="1.05" fill="#006633"/>
<path d="M615.0 87.6V90.8M614.4 87.6H615.6M614.4 90.8H615.6" stroke="#006633" class="eb"/>
<circle cx="615.0" cy="89.2" r="1.05" fill="#006633"/>
<path d="M675.0 92.6V95.8M674.4 92.6H675.6M674.4 95.8H675.6" stroke="#006633" class="eb"/>
<circle cx="675.0" cy="94.2" r="1.05" fill="#006633"/>
<path d="M555.0 88.0V91.2M554.4 88.0H555.6M554.4 91.2H555.6" stroke="#ff1a1a" class="eb"/>
<circle cx="555.0" cy="89.6" r="1.05" fill="#ff1a1a"/>
<path d="M615.0 71.1V74.3M614.4 71.1H615.6M614.4 74.3H615.6" stroke="#ff1a1a" class="eb"/>
<circle cx="615.0" cy="72.7" r="1.05" fill="#ff1a1a"/>
<path d="M675.0 81.7V84.9M674.4 81.7H675.6M674.4 84.9H675.6" stroke="#ff1a1a" class="eb"/>
<circle cx="675.0" cy="83.3" r="1.05" fill="#ff1a1a"/>
<path d="M555.0 89.0V92.2M554.4 89.0H555.6M554.4 92.2H555.6" stroke="#1a1aff" class="eb"/>
<circle cx="555.0" cy="90.6" r="1.05" fill="#1a1aff"/>
<path d="M615.0 64.8V68.0M614.4 64.8H615.6M614.4 68.0H615.6" stroke="#1a1aff" class="eb"/>
<circle cx="615.0" cy="66.4" r="1.05" fill="#1a1aff"/>
<path d="M675.0 81.7V84.9M674.4 81.7H675.6M674.4 84.9H675.6" stroke="#1a1aff" class="eb"/>
<circle cx="675.0" cy="83.3" r="1.05" fill="#1a1aff"/>
<path d="M555.0 69.0V72.2M554.4 69.0H555.6M554.4 72.2H555.6" stroke="#996633" class="eb"/>
<rect x="554.00" y="69.60" width="2" height="2" fill="#996633"/>
<path d="M615.0 67.3V70.5M614.4 67.3H615.6M614.4 70.5H615.6" stroke="#996633" class="eb"/>
<rect x="614.00" y="67.90" width="2" height="2" fill="#996633"/>
<path d="M675.0 72.2V75.4M674.4 72.2H675.6M674.4 75.4H675.6" stroke="#996633" class="eb"/>
<rect x="674.00" y="72.80" width="2" height="2" fill="#996633"/>
<path d="M555.0 70.1V73.3M554.4 70.1H555.6M554.4 73.3H555.6" stroke="#b30000" class="eb"/>
<circle cx="555.0" cy="71.7" r="1.05" fill="#b30000"/>
<path d="M615.0 65.2V68.4M614.4 65.2H615.6M614.4 68.4H615.6" stroke="#b30000" class="eb"/>
<circle cx="615.0" cy="66.8" r="1.05" fill="#b30000"/>
<path d="M675.0 50.0V53.2M674.4 50.0H675.6M674.4 53.2H675.6" stroke="#b30000" class="eb"/>
<circle cx="675.0" cy="51.6" r="1.05" fill="#b30000"/>
<path d="M555.0 85.9V89.1M554.4 85.9H555.6M554.4 89.1H555.6" stroke="#000000" class="eb"/>
<circle cx="555.0" cy="87.5" r="1.05" fill="#000000"/>
<path d="M615.0 60.3V68.3M614.4 60.3H615.6M614.4 68.3H615.6" stroke="#000000" class="eb"/>
<circle cx="615.0" cy="64.3" r="1.05" fill="#000000"/>
<path d="M675.0 32.9V39.9M674.4 32.9H675.6M674.4 39.9H675.6" stroke="#000000" class="eb"/>
<circle cx="675.0" cy="36.4" r="1.05" fill="#000000"/>
<path d="M555.0 83.8V87.0M554.4 83.8H555.6M554.4 87.0H555.6" stroke="#ff9933" class="eb"/>
<circle cx="555.0" cy="85.4" r="1.05" fill="#ff9933"/>
<path d="M615.0 49.6V52.8M614.4 49.6H615.6M614.4 52.8H615.6" stroke="#ff9933" class="eb"/>
<circle cx="615.0" cy="51.2" r="1.05" fill="#ff9933"/>
<path d="M675.0 39.5V42.7M674.4 39.5H675.6M674.4 42.7H675.6" stroke="#ff9933" class="eb"/>
<circle cx="675.0" cy="41.1" r="1.05" fill="#ff9933"/>
<path d="M555.0 73.6V76.8M554.4 73.6H555.6M554.4 76.8H555.6" stroke="#000099" class="eb"/>
<path d="M555.00 73.90L556.20 76.10H553.80Z" fill="#000099"/>
<path d="M615.0 38.1V46.1M614.4 38.1H615.6M614.4 46.1H615.6" stroke="#000099" class="eb"/>
<path d="M615.00 40.80L616.20 43.00H613.80Z" fill="#000099"/>
<path d="M675.0 62.7V65.9M674.4 62.7H675.6M674.4 65.9H675.6" stroke="#000099" class="eb"/>
<path d="M675.00 63.00L676.20 65.20H673.80Z" fill="#000099"/>
<path d="M555.0 80.6V83.8M554.4 80.6H555.6M554.4 83.8H555.6" stroke="#33cc33" class="eb"/>
<circle cx="555.0" cy="82.2" r="1.05" fill="#33cc33"/>
<path d="M615.0 27.3V30.5M614.4 27.3H615.6M614.4 30.5H615.6" stroke="#33cc33" class="eb"/>
<circle cx="615.0" cy="28.9" r="1.05" fill="#33cc33"/>
<path d="M675.0 65.8V69.0M674.4 65.8H675.6M674.4 69.0H675.6" stroke="#33cc33" class="eb"/>
<circle cx="675.0" cy="67.4" r="1.05" fill="#33cc33"/>
<path d="M555.0 74.3V77.5M554.4 74.3H555.6M554.4 77.5H555.6" stroke="#800080" class="eb"/>
<circle cx="555.0" cy="75.9" r="1.05" fill="#800080"/>
<path d="M615.0 23.0V26.2M614.4 23.0H615.6M614.4 26.2H615.6" stroke="#800080" class="eb"/>
<circle cx="615.0" cy="24.6" r="1.05" fill="#800080"/>
<path d="M675.0 35.3V38.5M674.4 35.3H675.6M674.4 38.5H675.6" stroke="#800080" class="eb"/>
<circle cx="675.0" cy="36.9" r="1.05" fill="#800080"/>
<path d="M555.0 81.7V84.9M554.4 81.7H555.6M554.4 84.9H555.6" stroke="#cc33ff" class="eb"/>
<circle cx="555.0" cy="83.3" r="1.05" fill="#cc33ff"/>
<path d="M615.0 16.5V21.5M614.4 16.5H615.6M614.4 21.5H615.6" stroke="#cc33ff" class="eb"/>
<circle cx="615.0" cy="19.0" r="1.05" fill="#cc33ff"/>
<path d="M675.0 51.1V54.3M674.4 51.1H675.6M674.4 54.3H675.6" stroke="#cc33ff" class="eb"/>
<circle cx="675.0" cy="52.7" r="1.05" fill="#cc33ff"/>
<text x="549.6" y="43.20" class="lb" fill="#b30000">jk</text>
<text x="549.6" y="49.08" class="lb" fill="#33cc33">jk</text>
<text x="549.6" y="54.96" class="lb" fill="#ffcc99">jk</text>
<text x="549.6" y="60.84" class="lb" fill="#1a1aff">kl</text>
<text x="549.6" y="66.72" class="lb" fill="#800080">l</text>
<text x="549.6" y="72.60" class="lb" fill="#996633">lm</text>
<text x="549.6" y="78.48" class="lb" fill="#cc33ff">lm</text>
<text x="549.6" y="84.36" class="lb" fill="#33cc33">m</text>
<text x="549.6" y="90.24" class="lb" fill="#000000">o</text>
<text x="549.6" y="96.12" class="lb" fill="#1a1aff">q</text>
<text x="549.6" y="102.00" class="lb" fill="#ff1a1a">q</text>
<text x="549.6" y="107.88" class="lb" fill="#ff9933">q</text>
<text x="616.3" y="43.20" class="lb" fill="#cc33ff">a</text>
<text x="616.3" y="49.08" class="lb" fill="#800080">b</text>
<text x="616.3" y="54.96" class="lb" fill="#ff9933">c</text>
<text x="616.3" y="60.84" class="lb" fill="#000099">f</text>
<text x="616.3" y="66.72" class="lb" fill="#996633">g</text>
<text x="616.3" y="72.60" class="lb" fill="#000000">h</text>
<text x="616.3" y="78.48" class="lb" fill="#1a1aff">hi</text>
<text x="616.3" y="84.36" class="lb" fill="#b30000">hi</text>
<text x="616.3" y="90.24" class="lb" fill="#996633">ij</text>
<text x="616.3" y="96.12" class="lb" fill="#ff1a1a">jk</text>
<text x="616.3" y="102.00" class="lb" fill="#ffcc99">n-p</text>
<text x="616.3" y="107.88" class="lb" fill="#006633">pq</text>
<text x="676.3" y="43.20" class="lb" fill="#000000">d</text>
<text x="676.3" y="49.08" class="lb" fill="#800080">de</text>
<text x="676.3" y="54.96" class="lb" fill="#ff9933">ef</text>
<text x="676.3" y="60.84" class="lb" fill="#cc33ff">g</text>
<text x="676.3" y="66.72" class="lb" fill="#b30000">g</text>
<text x="676.3" y="72.60" class="lb" fill="#1a1aff">h</text>
<text x="676.3" y="78.48" class="lb" fill="#33cc33">hi</text>
<text x="676.3" y="84.36" class="lb" fill="#996633">kl</text>
<text x="676.3" y="90.24" class="lb" fill="#ffcc99">mn</text>
<text x="676.3" y="96.12" class="lb" fill="#1a1aff">m-o</text>
<text x="676.3" y="102.00" class="lb" fill="#ff1a1a">m-o</text>
<text x="676.3" y="107.88" class="lb" fill="#006633">r</text>
<text x="1.5" y="141.7" class="ttl">E.</text>
<path d="M17.5 150.9V247.3H147.5" class="ax"/>
<path d="M16.5 151.40H17.5" class="ax"/>
<text transform="translate(16.30 153.20)" class="tk" text-anchor="end">0.45</text>
<path d="M16.5 167.38H17.5" class="ax"/>
<text transform="translate(16.30 169.18)" class="tk" text-anchor="end">0.40</text>
<path d="M16.5 183.37H17.5" class="ax"/>
<text transform="translate(16.30 185.17)" class="tk" text-anchor="end">0.35</text>
<path d="M16.5 199.35H17.5" class="ax"/>
<text transform="translate(16.30 201.15)" class="tk" text-anchor="end">0.30</text>
<path d="M16.5 215.33H17.5" class="ax"/>
<text transform="translate(16.30 217.13)" class="tk" text-anchor="end">0.25</text>
<path d="M16.5 231.32H17.5" class="ax"/>
<text transform="translate(16.30 233.12)" class="tk" text-anchor="end">0.20</text>
<path d="M16.5 247.30H17.5" class="ax"/>
<text transform="translate(16.30 249.10)" class="tk" text-anchor="end">0.15</text>
<path d="M23.4 247.3V248.3" class="ax"/>
<text x="23.60" y="253.00" class="tk" text-anchor="middle">2020</text>
<path d="M83.4 247.3V248.3" class="ax"/>
<text x="83.60" y="253.00" class="tk" text-anchor="middle">2021</text>
<path d="M143.4 247.3V248.3" class="ax"/>
<text x="143.60" y="253.00" class="tk" text-anchor="middle">2022</text>
<text x="80.9" y="259.30" class="yt yrs" text-anchor="middle">Years</text>
<text transform="translate(4.6 198.6) rotate(-90)" class="yt" text-anchor="middle">Magnesium (mg kg⁻¹)</text>
<polyline points="23.4,196.0 83.4,192.0 143.4,196.0" stroke="#ffcc99" class="ln"/>
<polyline points="23.4,189.6 83.4,205.4 143.4,186.5" stroke="#006633" class="ln"/>
<polyline points="23.4,192.8 83.4,199.1 143.4,196.0" stroke="#000099" class="ln"/>
<polyline points="23.4,199.1 83.4,175.9 143.4,208.6" stroke="#996633" class="ln"/>
<polyline points="23.4,218.1 83.4,199.1 143.4,196.0" stroke="#000000" class="ln"/>
<polyline points="23.4,221.3 83.4,181.0 143.4,211.8" stroke="#800080" class="ln"/>
<polyline points="23.4,233.9 83.4,186.5 143.4,202.3" stroke="#b30000" class="ln"/>
<polyline points="23.4,208.6 83.4,180.1 143.4,196.0" stroke="#33cc33" class="ln"/>
<polyline points="23.4,227.6 83.4,192.8 143.4,233.9" stroke="#1a1aff" class="ln"/>
<polyline points="23.4,233.9 83.4,199.1 143.4,244.0" stroke="#ff1a1a" class="ln"/>
<polyline points="23.4,230.7 83.4,179.1 143.4,173.2" stroke="#cc33ff" class="ln"/>
<polyline points="23.4,224.4 83.4,163.9 143.4,192.8" stroke="#ff9933" class="ln"/>
<path d="M23.4 194.4V197.6M22.799999999999997 194.4H24.0M22.799999999999997 197.6H24.0" stroke="#ffcc99" class="eb"/>
<circle cx="23.4" cy="196.0" r="1.05" fill="#ffcc99"/>
<path d="M83.4 190.4V193.6M82.80000000000001 190.4H84.0M82.80000000000001 193.6H84.0" stroke="#ffcc99" class="eb"/>
<circle cx="83.4" cy="192.0" r="1.05" fill="#ffcc99"/>
<path d="M143.4 194.4V197.6M142.8 194.4H144.0M142.8 197.6H144.0" stroke="#ffcc99" class="eb"/>
<circle cx="143.4" cy="196.0" r="1.05" fill="#ffcc99"/>
<path d="M23.4 188.0V191.2M22.799999999999997 188.0H24.0M22.799999999999997 191.2H24.0" stroke="#006633" class="eb"/>
<circle cx="23.4" cy="189.6" r="1.05" fill="#006633"/>
<path d="M83.4 203.8V207.0M82.80000000000001 203.8H84.0M82.80000000000001 207.0H84.0" stroke="#006633" class="eb"/>
<circle cx="83.4" cy="205.4" r="1.05" fill="#006633"/>
<path d="M143.4 183.5V189.5M142.8 183.5H144.0M142.8 189.5H144.0" stroke="#006633" class="eb"/>
<circle cx="143.4" cy="186.5" r="1.05" fill="#006633"/>
<path d="M23.4 191.2V194.4M22.799999999999997 191.2H24.0M22.799999999999997 194.4H24.0" stroke="#000099" class="eb"/>
<path d="M23.40 191.50L24.60 193.70H22.20Z" fill="#000099"/>
<path d="M83.4 197.5V200.7M82.80000000000001 197.5H84.0M82.80000000000001 200.7H84.0" stroke="#000099" class="eb"/>
<path d="M83.40 197.80L84.60 200.00H82.20Z" fill="#000099"/>
<path d="M143.4 194.4V197.6M142.8 194.4H144.0M142.8 197.6H144.0" stroke="#000099" class="eb"/>
<path d="M143.40 194.70L144.60 196.90H142.20Z" fill="#000099"/>
<path d="M23.4 197.5V200.7M22.799999999999997 197.5H24.0M22.799999999999997 200.7H24.0" stroke="#996633" class="eb"/>
<rect x="22.40" y="198.10" width="2" height="2" fill="#996633"/>
<path d="M83.4 174.3V177.5M82.80000000000001 174.3H84.0M82.80000000000001 177.5H84.0" stroke="#996633" class="eb"/>
<rect x="82.40" y="174.90" width="2" height="2" fill="#996633"/>
<path d="M143.4 207.0V210.2M142.8 207.0H144.0M142.8 210.2H144.0" stroke="#996633" class="eb"/>
<rect x="142.40" y="207.60" width="2" height="2" fill="#996633"/>
<path d="M23.4 216.5V219.7M22.799999999999997 216.5H24.0M22.799999999999997 219.7H24.0" stroke="#000000" class="eb"/>
<circle cx="23.4" cy="218.1" r="1.05" fill="#000000"/>
<path d="M83.4 197.5V200.7M82.80000000000001 197.5H84.0M82.80000000000001 200.7H84.0" stroke="#000000" class="eb"/>
<circle cx="83.4" cy="199.1" r="1.05" fill="#000000"/>
<path d="M143.4 194.4V197.6M142.8 194.4H144.0M142.8 197.6H144.0" stroke="#000000" class="eb"/>
<circle cx="143.4" cy="196.0" r="1.05" fill="#000000"/>
<path d="M23.4 219.7V222.9M22.799999999999997 219.7H24.0M22.799999999999997 222.9H24.0" stroke="#800080" class="eb"/>
<circle cx="23.4" cy="221.3" r="1.05" fill="#800080"/>
<path d="M83.4 179.4V182.6M82.80000000000001 179.4H84.0M82.80000000000001 182.6H84.0" stroke="#800080" class="eb"/>
<circle cx="83.4" cy="181.0" r="1.05" fill="#800080"/>
<path d="M143.4 210.2V213.4M142.8 210.2H144.0M142.8 213.4H144.0" stroke="#800080" class="eb"/>
<circle cx="143.4" cy="211.8" r="1.05" fill="#800080"/>
<path d="M23.4 232.3V235.5M22.799999999999997 232.3H24.0M22.799999999999997 235.5H24.0" stroke="#b30000" class="eb"/>
<circle cx="23.4" cy="233.9" r="1.05" fill="#b30000"/>
<path d="M83.4 183.5V189.5M82.80000000000001 183.5H84.0M82.80000000000001 189.5H84.0" stroke="#b30000" class="eb"/>
<circle cx="83.4" cy="186.5" r="1.05" fill="#b30000"/>
<path d="M143.4 200.7V203.9M142.8 200.7H144.0M142.8 203.9H144.0" stroke="#b30000" class="eb"/>
<circle cx="143.4" cy="202.3" r="1.05" fill="#b30000"/>
<path d="M23.4 207.0V210.2M22.799999999999997 207.0H24.0M22.799999999999997 210.2H24.0" stroke="#33cc33" class="eb"/>
<circle cx="23.4" cy="208.6" r="1.05" fill="#33cc33"/>
<path d="M83.4 178.5V181.7M82.80000000000001 178.5H84.0M82.80000000000001 181.7H84.0" stroke="#33cc33" class="eb"/>
<circle cx="83.4" cy="180.1" r="1.05" fill="#33cc33"/>
<path d="M143.4 194.4V197.6M142.8 194.4H144.0M142.8 197.6H144.0" stroke="#33cc33" class="eb"/>
<circle cx="143.4" cy="196.0" r="1.05" fill="#33cc33"/>
<path d="M23.4 226.0V229.2M22.799999999999997 226.0H24.0M22.799999999999997 229.2H24.0" stroke="#1a1aff" class="eb"/>
<circle cx="23.4" cy="227.6" r="1.05" fill="#1a1aff"/>
<path d="M83.4 191.2V194.4M82.80000000000001 191.2H84.0M82.80000000000001 194.4H84.0" stroke="#1a1aff" class="eb"/>
<circle cx="83.4" cy="192.8" r="1.05" fill="#1a1aff"/>
<path d="M143.4 232.3V235.5M142.8 232.3H144.0M142.8 235.5H144.0" stroke="#1a1aff" class="eb"/>
<circle cx="143.4" cy="233.9" r="1.05" fill="#1a1aff"/>
<path d="M23.4 232.3V235.5M22.799999999999997 232.3H24.0M22.799999999999997 235.5H24.0" stroke="#ff1a1a" class="eb"/>
<circle cx="23.4" cy="233.9" r="1.05" fill="#ff1a1a"/>
<path d="M83.4 197.5V200.7M82.80000000000001 197.5H84.0M82.80000000000001 200.7H84.0" stroke="#ff1a1a" class="eb"/>
<circle cx="83.4" cy="199.1" r="1.05" fill="#ff1a1a"/>
<path d="M143.4 242.4V245.6M142.8 242.4H144.0M142.8 245.6H144.0" stroke="#ff1a1a" class="eb"/>
<circle cx="143.4" cy="244.0" r="1.05" fill="#ff1a1a"/>
<path d="M23.4 229.1V232.3M22.799999999999997 229.1H24.0M22.799999999999997 232.3H24.0" stroke="#cc33ff" class="eb"/>
<circle cx="23.4" cy="230.7" r="1.05" fill="#cc33ff"/>
<path d="M83.4 177.5V180.7M82.80000000000001 177.5H84.0M82.80000000000001 180.7H84.0" stroke="#cc33ff" class="eb"/>
<circle cx="83.4" cy="179.1" r="1.05" fill="#cc33ff"/>
<path d="M143.4 170.7V175.7M142.8 170.7H144.0M142.8 175.7H144.0" stroke="#cc33ff" class="eb"/>
<circle cx="143.4" cy="173.2" r="1.05" fill="#cc33ff"/>
<path d="M23.4 222.8V226.0M22.799999999999997 222.8H24.0M22.799999999999997 226.0H24.0" stroke="#ff9933" class="eb"/>
<circle cx="23.4" cy="224.4" r="1.05" fill="#ff9933"/>
<path d="M83.4 160.4V167.4M82.80000000000001 160.4H84.0M82.80000000000001 167.4H84.0" stroke="#ff9933" class="eb"/>
<circle cx="83.4" cy="163.9" r="1.05" fill="#ff9933"/>
<path d="M143.4 191.2V194.4M142.8 191.2H144.0M142.8 194.4H144.0" stroke="#ff9933" class="eb"/>
<circle cx="143.4" cy="192.8" r="1.05" fill="#ff9933"/>
<text x="18.5" y="182.00" class="lb" fill="#006633">fg</text>
<text x="18.5" y="187.88" class="lb" fill="#000099">gh</text>
<text x="18.5" y="193.76" class="lb" fill="#996633">k</text>
<text x="18.5" y="199.64" class="lb" fill="#ffcc99">k</text>
<text x="18.5" y="205.52" class="lb" fill="#cc33ff">l</text>
<text x="18.5" y="211.40" class="lb" fill="#33cc33">lmn</text>
<text x="18.5" y="217.28" class="lb" fill="#000000">n</text>
<text x="18.5" y="223.16" class="lb" fill="#800080">n</text>
<text x="18.5" y="229.04" class="lb" fill="#ff9933">o</text>
<text x="18.5" y="234.92" class="lb" fill="#1a1aff">p</text>
<text x="18.5" y="240.80" class="lb" fill="#ff1a1a">q</text>
<text x="18.5" y="246.68" class="lb" fill="#b30000">q</text>
<text x="84.7" y="182.00" class="lb" fill="#ff9933">a</text>
<text x="84.7" y="187.88" class="lb" fill="#996633">bc</text>
<text x="84.7" y="193.76" class="lb" fill="#33cc33">cd</text>
<text x="84.7" y="199.64" class="lb" fill="#800080">cd</text>
<text x="84.7" y="205.52" class="lb" fill="#cc33ff">d</text>
<text x="84.7" y="211.40" class="lb" fill="#b30000">ef</text>
<text x="84.7" y="217.28" class="lb" fill="#1a1aff">gh</text>
<text x="84.7" y="223.16" class="lb" fill="#ffcc99">g-i</text>
<text x="84.7" y="229.04" class="lb" fill="#ff1a1a">jk</text>
<text x="84.7" y="234.92" class="lb" fill="#000099">jk</text>
<text x="84.7" y="240.80" class="lb" fill="#000000">k</text>
<text x="84.7" y="246.68" class="lb" fill="#006633">l</text>
<text x="144.7" y="182.00" class="lb" fill="#cc33ff">b</text>
<text x="144.7" y="187.88" class="lb" fill="#006633">e</text>
<text x="144.7" y="193.76" class="lb" fill="#ff9933">g-i</text>
<text x="144.7" y="199.64" class="lb" fill="#ffcc99">g-i</text>
<text x="144.7" y="205.52" class="lb" fill="#33cc33">hi</text>
<text x="144.7" y="211.40" class="lb" fill="#000099">hi</text>
<text x="144.7" y="217.28" class="lb" fill="#000000">ij</text>
<text x="144.7" y="223.16" class="lb" fill="#b30000">k</text>
<text x="144.7" y="229.04" class="lb" fill="#996633">lm</text>
<text x="144.7" y="234.92" class="lb" fill="#800080">m</text>
<text x="144.7" y="240.80" class="lb" fill="#1a1aff">o</text>
<text x="144.7" y="246.68" class="lb" fill="#ff1a1a">r</text>
<text x="180.0" y="141.7" class="ttl">F.</text>
<path d="M197.9 150.9V247.3H327.9" class="ax"/>
<path d="M196.9 151.40H197.9" class="ax"/>
<text transform="translate(196.70 153.20)" class="tk" text-anchor="end">0.280</text>
<path d="M196.9 167.38H197.9" class="ax"/>
<text transform="translate(196.70 169.18)" class="tk" text-anchor="end">0.255</text>
<path d="M196.9 183.37H197.9" class="ax"/>
<text transform="translate(196.70 185.17)" class="tk" text-anchor="end">0.230</text>
<path d="M196.9 199.35H197.9" class="ax"/>
<text transform="translate(196.70 201.15)" class="tk" text-anchor="end">0.205</text>
<path d="M196.9 215.33H197.9" class="ax"/>
<text transform="translate(196.70 217.13)" class="tk" text-anchor="end">0.180</text>
<path d="M196.9 231.32H197.9" class="ax"/>
<text transform="translate(196.70 233.12)" class="tk" text-anchor="end">0.155</text>
<path d="M196.9 247.30H197.9" class="ax"/>
<text transform="translate(196.70 249.10)" class="tk" text-anchor="end">0.130</text>
<path d="M204.0 247.3V248.3" class="ax"/>
<text x="204.20" y="253.00" class="tk" text-anchor="middle">2020</text>
<path d="M264.0 247.3V248.3" class="ax"/>
<text x="264.20" y="253.00" class="tk" text-anchor="middle">2021</text>
<path d="M324.0 247.3V248.3" class="ax"/>
<text x="324.20" y="253.00" class="tk" text-anchor="middle">2022</text>
<text x="261.3" y="259.30" class="yt yrs" text-anchor="middle">Years</text>
<text transform="translate(182.9 198.6) rotate(-90)" class="yt" text-anchor="middle">Sulfur (mg kg⁻¹)</text>
<polyline points="204.0,200.0 264.0,194.0 324.0,207.0" stroke="#ffcc99" class="ln"/>
<polyline points="204.0,182.9 264.0,202.3 324.0,214.5" stroke="#006633" class="ln"/>
<polyline points="204.0,196.0 264.0,195.0 324.0,189.2" stroke="#000099" class="ln"/>
<polyline points="204.0,208.6 264.0,189.6 324.0,208.6" stroke="#996633" class="ln"/>
<polyline points="204.0,195.5 264.0,189.6 324.0,208.6" stroke="#b30000" class="ln"/>
<polyline points="204.0,189.2 264.0,176.6 324.0,202.3" stroke="#000000" class="ln"/>
<polyline points="204.0,214.9 264.0,182.9 324.0,189.2" stroke="#ff1a1a" class="ln"/>
<polyline points="204.0,227.6 264.0,189.6 324.0,176.6" stroke="#33cc33" class="ln"/>
<polyline points="204.0,240.2 264.0,196.0 324.0,176.6" stroke="#1a1aff" class="ln"/>
<polyline points="204.0,208.6 264.0,176.6 324.0,169.6" stroke="#cc33ff" class="ln"/>
<polyline points="204.0,214.9 264.0,169.6 324.0,214.5" stroke="#800080" class="ln"/>
<polyline points="204.0,221.3 264.0,157.0 324.0,208.6" stroke="#ff9933" class="ln"/>
<path d="M204.0 198.4V201.6M203.4 198.4H204.6M203.4 201.6H204.6" stroke="#ffcc99" class="eb"/>
<circle cx="204.0" cy="200.0" r="1.05" fill="#ffcc99"/>
<path d="M264.0 192.4V195.6M263.4 192.4H264.6M263.4 195.6H264.6" stroke="#ffcc99" class="eb"/>
<circle cx="264.0" cy="194.0" r="1.05" fill="#ffcc99"/>
<path d="M324.0 205.4V208.6M323.4 205.4H324.6M323.4 208.6H324.6" stroke="#ffcc99" class="eb"/>
<circle cx="324.0" cy="207.0" r="1.05" fill="#ffcc99"/>
<path d="M204.0 181.3V184.5M203.4 181.3H204.6M203.4 184.5H204.6" stroke="#006633" class="eb"/>
<circle cx="204.0" cy="182.9" r="1.05" fill="#006633"/>
<path d="M264.0 200.7V203.9M263.4 200.7H264.6M263.4 203.9H264.6" stroke="#006633" class="eb"/>
<circle cx="264.0" cy="202.3" r="1.05" fill="#006633"/>
<path d="M324.0 212.9V216.1M323.4 212.9H324.6M323.4 216.1H324.6" stroke="#006633" class="eb"/>
<circle cx="324.0" cy="214.5" r="1.05" fill="#006633"/>
<path d="M204.0 194.4V197.6M203.4 194.4H204.6M203.4 197.6H204.6" stroke="#000099" class="eb"/>
<path d="M204.00 194.70L205.20 196.90H202.80Z" fill="#000099"/>
<path d="M264.0 193.4V196.6M263.4 193.4H264.6M263.4 196.6H264.6" stroke="#000099" class="eb"/>
<path d="M264.00 193.70L265.20 195.90H262.80Z" fill="#000099"/>
<path d="M324.0 187.6V190.8M323.4 187.6H324.6M323.4 190.8H324.6" stroke="#000099" class="eb"/>
<path d="M324.00 187.90L325.20 190.10H322.80Z" fill="#000099"/>
<path d="M204.0 207.0V210.2M203.4 207.0H204.6M203.4 210.2H204.6" stroke="#996633" class="eb"/>
<rect x="203.00" y="207.60" width="2" height="2" fill="#996633"/>
<path d="M264.0 188.0V191.2M263.4 188.0H264.6M263.4 191.2H264.6" stroke="#996633" class="eb"/>
<rect x="263.00" y="188.60" width="2" height="2" fill="#996633"/>
<path d="M324.0 207.0V210.2M323.4 207.0H324.6M323.4 210.2H324.6" stroke="#996633" class="eb"/>
<rect x="323.00" y="207.60" width="2" height="2" fill="#996633"/>
<path d="M204.0 193.9V197.1M203.4 193.9H204.6M203.4 197.1H204.6" stroke="#b30000" class="eb"/>
<circle cx="204.0" cy="195.5" r="1.05" fill="#b30000"/>
<path d="M264.0 188.0V191.2M263.4 188.0H264.6M263.4 191.2H264.6" stroke="#b30000" class="eb"/>
<circle cx="264.0" cy="189.6" r="1.05" fill="#b30000"/>
<path d="M324.0 207.0V210.2M323.4 207.0H324.6M323.4 210.2H324.6" stroke="#b30000" class="eb"/>
<circle cx="324.0" cy="208.6" r="1.05" fill="#b30000"/>
<path d="M204.0 187.6V190.8M203.4 187.6H204.6M203.4 190.8H204.6" stroke="#000000" class="eb"/>
<circle cx="204.0" cy="189.2" r="1.05" fill="#000000"/>
<path d="M264.0 175.0V178.2M263.4 175.0H264.6M263.4 178.2H264.6" stroke="#000000" class="eb"/>
<circle cx="264.0" cy="176.6" r="1.05" fill="#000000"/>
<path d="M324.0 200.7V203.9M323.4 200.7H324.6M323.4 203.9H324.6" stroke="#000000" class="eb"/>
<circle cx="324.0" cy="202.3" r="1.05" fill="#000000"/>
<path d="M204.0 213.3V216.5M203.4 213.3H204.6M203.4 216.5H204.6" stroke="#ff1a1a" class="eb"/>
<circle cx="204.0" cy="214.9" r="1.05" fill="#ff1a1a"/>
<path d="M264.0 181.3V184.5M263.4 181.3H264.6M263.4 184.5H264.6" stroke="#ff1a1a" class="eb"/>
<circle cx="264.0" cy="182.9" r="1.05" fill="#ff1a1a"/>
<path d="M324.0 187.6V190.8M323.4 187.6H324.6M323.4 190.8H324.6" stroke="#ff1a1a" class="eb"/>
<circle cx="324.0" cy="189.2" r="1.05" fill="#ff1a1a"/>
<path d="M204.0 226.0V229.2M203.4 226.0H204.6M203.4 229.2H204.6" stroke="#33cc33" class="eb"/>
<circle cx="204.0" cy="227.6" r="1.05" fill="#33cc33"/>
<path d="M264.0 188.0V191.2M263.4 188.0H264.6M263.4 191.2H264.6" stroke="#33cc33" class="eb"/>
<circle cx="264.0" cy="189.6" r="1.05" fill="#33cc33"/>
<path d="M324.0 175.0V178.2M323.4 175.0H324.6M323.4 178.2H324.6" stroke="#33cc33" class="eb"/>
<circle cx="324.0" cy="176.6" r="1.05" fill="#33cc33"/>
<path d="M204.0 238.6V241.8M203.4 238.6H204.6M203.4 241.8H204.6" stroke="#1a1aff" class="eb"/>
<circle cx="204.0" cy="240.2" r="1.05" fill="#1a1aff"/>
<path d="M264.0 194.4V197.6M263.4 194.4H264.6M263.4 197.6H264.6" stroke="#1a1aff" class="eb"/>
<circle cx="264.0" cy="196.0" r="1.05" fill="#1a1aff"/>
<path d="M324.0 175.0V178.2M323.4 175.0H324.6M323.4 178.2H324.6" stroke="#1a1aff" class="eb"/>
<circle cx="324.0" cy="176.6" r="1.05" fill="#1a1aff"/>
<path d="M204.0 207.0V210.2M203.4 207.0H204.6M203.4 210.2H204.6" stroke="#cc33ff" class="eb"/>
<circle cx="204.0" cy="208.6" r="1.05" fill="#cc33ff"/>
<path d="M264.0 175.0V178.2M263.4 175.0H264.6M263.4 178.2H264.6" stroke="#cc33ff" class="eb"/>
<circle cx="264.0" cy="176.6" r="1.05" fill="#cc33ff"/>
<path d="M324.0 168.0V171.2M323.4 168.0H324.6M323.4 171.2H324.6" stroke="#cc33ff" class="eb"/>
<circle cx="324.0" cy="169.6" r="1.05" fill="#cc33ff"/>
<path d="M204.0 213.3V216.5M203.4 213.3H204.6M203.4 216.5H204.6" stroke="#800080" class="eb"/>
<circle cx="204.0" cy="214.9" r="1.05" fill="#800080"/>
<path d="M264.0 166.6V172.6M263.4 166.6H264.6M263.4 172.6H264.6" stroke="#800080" class="eb"/>
<circle cx="264.0" cy="169.6" r="1.05" fill="#800080"/>
<path d="M324.0 212.9V216.1M323.4 212.9H324.6M323.4 216.1H324.6" stroke="#800080" class="eb"/>
<circle cx="324.0" cy="214.5" r="1.05" fill="#800080"/>
<path d="M204.0 219.7V222.9M203.4 219.7H204.6M203.4 222.9H204.6" stroke="#ff9933" class="eb"/>
<circle cx="204.0" cy="221.3" r="1.05" fill="#ff9933"/>
<path d="M264.0 150.0V164.0M263.4 150.0H264.6M263.4 164.0H264.6" stroke="#ff9933" class="eb"/>
<circle cx="264.0" cy="157.0" r="1.05" fill="#ff9933"/>
<path d="M324.0 207.0V210.2M323.4 207.0H324.6M323.4 210.2H324.6" stroke="#ff9933" class="eb"/>
<circle cx="324.0" cy="208.6" r="1.05" fill="#ff9933"/>
<text x="198.9" y="182.00" class="lb" fill="#006633">c-e</text>
<text x="198.9" y="187.88" class="lb" fill="#000000">e-h</text>
<text x="198.9" y="193.76" class="lb" fill="#b30000">g-i</text>
<text x="198.9" y="199.64" class="lb" fill="#000099">i-k</text>
<text x="198.9" y="205.52" class="lb" fill="#cc33ff">m-p</text>
<text x="198.9" y="211.40" class="lb" fill="#996633">m-p</text>
<text x="198.9" y="217.28" class="lb" fill="#ffcc99">m</text>
<text x="198.9" y="223.16" class="lb" fill="#ff1a1a">n-p</text>
<text x="198.9" y="229.04" class="lb" fill="#800080">op</text>
<text x="198.9" y="234.92" class="lb" fill="#ff9933">pq</text>
<text x="198.9" y="240.80" class="lb" fill="#33cc33">q</text>
<text x="198.9" y="246.68" class="lb" fill="#1a1aff">r</text>
<text x="265.3" y="182.00" class="lb" fill="#ff9933">a</text>
<text x="265.3" y="187.88" class="lb" fill="#800080">b</text>
<text x="265.3" y="193.76" class="lb" fill="#000000">be</text>
<text x="265.3" y="199.64" class="lb" fill="#cc33ff">cd</text>
<text x="265.3" y="205.52" class="lb" fill="#ff1a1a">d-f</text>
<text x="265.3" y="211.40" class="lb" fill="#b30000">e-h</text>
<text x="265.3" y="217.28" class="lb" fill="#33cc33">f-h</text>
<text x="265.3" y="223.16" class="lb" fill="#996633">g-i</text>
<text x="265.3" y="229.04" class="lb" fill="#1a1aff">h-j</text>
<text x="265.3" y="234.92" class="lb" fill="#000099">h-j</text>
<text x="265.3" y="240.80" class="lb" fill="#ffcc99">h-j</text>
<text x="265.3" y="246.68" class="lb" fill="#006633">i-k</text>
<text x="325.3" y="182.00" class="lb" fill="#cc33ff">b</text>
<text x="325.3" y="187.88" class="lb" fill="#1a1aff">bc</text>
<text x="325.3" y="193.76" class="lb" fill="#33cc33">cd</text>
<text x="325.3" y="199.64" class="lb" fill="#ff1a1a">e-g</text>
<text x="325.3" y="205.52" class="lb" fill="#000099">f-h</text>
<text x="325.3" y="211.40" class="lb" fill="#000000">g-j</text>
<text x="325.3" y="217.28" class="lb" fill="#ffcc99">h-m</text>
<text x="325.3" y="223.16" class="lb" fill="#ff9933">i-n</text>
<text x="325.3" y="229.04" class="lb" fill="#996633">i-n</text>
<text x="325.3" y="234.92" class="lb" fill="#b30000">k-n</text>
<text x="325.3" y="240.80" class="lb" fill="#800080">mo</text>
<text x="325.3" y="246.68" class="lb" fill="#006633">n-p</text>
<text x="358.0" y="141.7" class="ttl">G.</text>
<path d="M372.2 150.9V247.3H502.2" class="ax"/>
<path d="M371.2 151.40H372.2" class="ax"/>
<text transform="translate(371.00 153.20)" class="tk" text-anchor="end">46</text>
<path d="M371.2 167.38H372.2" class="ax"/>
<text transform="translate(371.00 169.18)" class="tk" text-anchor="end">42</text>
<path d="M371.2 183.37H372.2" class="ax"/>
<text transform="translate(371.00 185.17)" class="tk" text-anchor="end">38</text>
<path d="M371.2 199.35H372.2" class="ax"/>
<text transform="translate(371.00 201.15)" class="tk" text-anchor="end">34</text>
<path d="M371.2 215.33H372.2" class="ax"/>
<text transform="translate(371.00 217.13)" class="tk" text-anchor="end">30</text>
<path d="M371.2 231.32H372.2" class="ax"/>
<text transform="translate(371.00 233.12)" class="tk" text-anchor="end">26</text>
<path d="M371.2 247.30H372.2" class="ax"/>
<text transform="translate(371.00 249.10)" class="tk" text-anchor="end">22</text>
<path d="M378.0 247.3V248.3" class="ax"/>
<text x="378.20" y="253.00" class="tk" text-anchor="middle">2020</text>
<path d="M438.0 247.3V248.3" class="ax"/>
<text x="438.20" y="253.00" class="tk" text-anchor="middle">2021</text>
<path d="M498.0 247.3V248.3" class="ax"/>
<text x="498.20" y="253.00" class="tk" text-anchor="middle">2022</text>
<text x="435.6" y="259.30" class="yt yrs" text-anchor="middle">Years</text>
<text transform="translate(361.6 198.6) rotate(-90)" class="yt" text-anchor="middle">Manganese (mg kg⁻¹)</text>
<polyline points="378.0,205.0 438.0,196.0 498.0,199.0" stroke="#ffcc99" class="ln"/>
<polyline points="378.0,206.5 438.0,208.2 498.0,220.8" stroke="#006633" class="ln"/>
<polyline points="378.0,216.6 438.0,207.5 498.0,209.6" stroke="#996633" class="ln"/>
<polyline points="378.0,221.3 438.0,209.0 498.0,217.0" stroke="#b30000" class="ln"/>
<polyline points="378.0,221.3 438.0,202.7 498.0,220.8" stroke="#000000" class="ln"/>
<polyline points="378.0,211.8 438.0,189.6 498.0,206.5" stroke="#800080" class="ln"/>
<polyline points="378.0,202.3 438.0,191.7 498.0,206.5" stroke="#000099" class="ln"/>
<polyline points="378.0,219.0 438.0,188.5 498.0,181.6" stroke="#cc33ff" class="ln"/>
<polyline points="378.0,226.5 438.0,183.7 498.0,216.0" stroke="#33cc33" class="ln"/>
<polyline points="378.0,233.9 438.0,222.3 498.0,221.3" stroke="#ff1a1a" class="ln"/>
<polyline points="378.0,242.3 438.0,185.4 498.0,178.7" stroke="#1a1aff" class="ln"/>
<polyline points="378.0,244.4 438.0,161.2 498.0,201.2" stroke="#ff9933" class="ln"/>
<path d="M378.0 203.4V206.6M377.4 203.4H378.6M377.4 206.6H378.6" stroke="#ffcc99" class="eb"/>
<circle cx="378.0" cy="205.0" r="1.05" fill="#ffcc99"/>
<path d="M438.0 194.4V197.6M437.4 194.4H438.6M437.4 197.6H438.6" stroke="#ffcc99" class="eb"/>
<circle cx="438.0" cy="196.0" r="1.05" fill="#ffcc99"/>
<path d="M498.0 197.4V200.6M497.4 197.4H498.6M497.4 200.6H498.6" stroke="#ffcc99" class="eb"/>
<circle cx="498.0" cy="199.0" r="1.05" fill="#ffcc99"/>
<path d="M378.0 204.9V208.1M377.4 204.9H378.6M377.4 208.1H378.6" stroke="#006633" class="eb"/>
<circle cx="378.0" cy="206.5" r="1.05" fill="#006633"/>
<path d="M438.0 206.6V209.8M437.4 206.6H438.6M437.4 209.8H438.6" stroke="#006633" class="eb"/>
<circle cx="438.0" cy="208.2" r="1.05" fill="#006633"/>
<path d="M498.0 219.2V222.4M497.4 219.2H498.6M497.4 222.4H498.6" stroke="#006633" class="eb"/>
<circle cx="498.0" cy="220.8" r="1.05" fill="#006633"/>
<path d="M378.0 215.0V218.2M377.4 215.0H378.6M377.4 218.2H378.6" stroke="#996633" class="eb"/>
<rect x="377.00" y="215.60" width="2" height="2" fill="#996633"/>
<path d="M438.0 205.9V209.1M437.4 205.9H438.6M437.4 209.1H438.6" stroke="#996633" class="eb"/>
<rect x="437.00" y="206.50" width="2" height="2" fill="#996633"/>
<path d="M498.0 208.0V211.2M497.4 208.0H498.6M497.4 211.2H498.6" stroke="#996633" class="eb"/>
<rect x="497.00" y="208.60" width="2" height="2" fill="#996633"/>
<path d="M378.0 219.7V222.9M377.4 219.7H378.6M377.4 222.9H378.6" stroke="#b30000" class="eb"/>
<circle cx="378.0" cy="221.3" r="1.05" fill="#b30000"/>
<path d="M438.0 207.4V210.6M437.4 207.4H438.6M437.4 210.6H438.6" stroke="#b30000" class="eb"/>
<circle cx="438.0" cy="209.0" r="1.05" fill="#b30000"/>
<path d="M498.0 215.4V218.6M497.4 215.4H498.6M497.4 218.6H498.6" stroke="#b30000" class="eb"/>
<circle cx="498.0" cy="217.0" r="1.05" fill="#b30000"/>
<path d="M378.0 219.7V222.9M377.4 219.7H378.6M377.4 222.9H378.6" stroke="#000000" class="eb"/>
<circle cx="378.0" cy="221.3" r="1.05" fill="#000000"/>
<path d="M438.0 201.1V204.3M437.4 201.1H438.6M437.4 204.3H438.6" stroke="#000000" class="eb"/>
<circle cx="438.0" cy="202.7" r="1.05" fill="#000000"/>
<path d="M498.0 219.2V222.4M497.4 219.2H498.6M497.4 222.4H498.6" stroke="#000000" class="eb"/>
<circle cx="498.0" cy="220.8" r="1.05" fill="#000000"/>
<path d="M378.0 210.2V213.4M377.4 210.2H378.6M377.4 213.4H378.6" stroke="#800080" class="eb"/>
<circle cx="378.0" cy="211.8" r="1.05" fill="#800080"/>
<path d="M438.0 188.0V191.2M437.4 188.0H438.6M437.4 191.2H438.6" stroke="#800080" class="eb"/>
<circle cx="438.0" cy="189.6" r="1.05" fill="#800080"/>
<path d="M498.0 204.9V208.1M497.4 204.9H498.6M497.4 208.1H498.6" stroke="#800080" class="eb"/>
<circle cx="498.0" cy="206.5" r="1.05" fill="#800080"/>
<path d="M378.0 200.7V203.9M377.4 200.7H378.6M377.4 203.9H378.6" stroke="#000099" class="eb"/>
<path d="M378.00 201.00L379.20 203.20H376.80Z" fill="#000099"/>
<path d="M438.0 190.1V193.3M437.4 190.1H438.6M437.4 193.3H438.6" stroke="#000099" class="eb"/>
<path d="M438.00 190.40L439.20 192.60H436.80Z" fill="#000099"/>
<path d="M498.0 204.9V208.1M497.4 204.9H498.6M497.4 208.1H498.6" stroke="#000099" class="eb"/>
<path d="M498.00 205.20L499.20 207.40H496.80Z" fill="#000099"/>
<path d="M378.0 217.4V220.6M377.4 217.4H378.6M377.4 220.6H378.6" stroke="#cc33ff" class="eb"/>
<circle cx="378.0" cy="219.0" r="1.05" fill="#cc33ff"/>
<path d="M438.0 186.9V190.1M437.4 186.9H438.6M437.4 190.1H438.6" stroke="#cc33ff" class="eb"/>
<circle cx="438.0" cy="188.5" r="1.05" fill="#cc33ff"/>
<path d="M498.0 180.0V183.2M497.4 180.0H498.6M497.4 183.2H498.6" stroke="#cc33ff" class="eb"/>
<circle cx="498.0" cy="181.6" r="1.05" fill="#cc33ff"/>
<path d="M378.0 224.9V228.1M377.4 224.9H378.6M377.4 228.1H378.6" stroke="#33cc33" class="eb"/>
<circle cx="378.0" cy="226.5" r="1.05" fill="#33cc33"/>
<path d="M438.0 182.1V185.3M437.4 182.1H438.6M437.4 185.3H438.6" stroke="#33cc33" class="eb"/>
<circle cx="438.0" cy="183.7" r="1.05" fill="#33cc33"/>
<path d="M498.0 214.4V217.6M497.4 214.4H498.6M497.4 217.6H498.6" stroke="#33cc33" class="eb"/>
<circle cx="498.0" cy="216.0" r="1.05" fill="#33cc33"/>
<path d="M378.0 232.3V235.5M377.4 232.3H378.6M377.4 235.5H378.6" stroke="#ff1a1a" class="eb"/>
<circle cx="378.0" cy="233.9" r="1.05" fill="#ff1a1a"/>
<path d="M438.0 220.7V223.9M437.4 220.7H438.6M437.4 223.9H438.6" stroke="#ff1a1a" class="eb"/>
<circle cx="438.0" cy="222.3" r="1.05" fill="#ff1a1a"/>
<path d="M498.0 219.7V222.9M497.4 219.7H498.6M497.4 222.9H498.6" stroke="#ff1a1a" class="eb"/>
<circle cx="498.0" cy="221.3" r="1.05" fill="#ff1a1a"/>
<path d="M378.0 240.7V243.9M377.4 240.7H378.6M377.4 243.9H378.6" stroke="#1a1aff" class="eb"/>
<circle cx="378.0" cy="242.3" r="1.05" fill="#1a1aff"/>
<path d="M438.0 183.8V187.0M437.4 183.8H438.6M437.4 187.0H438.6" stroke="#1a1aff" class="eb"/>
<circle cx="438.0" cy="185.4" r="1.05" fill="#1a1aff"/>
<path d="M498.0 177.1V180.3M497.4 177.1H498.6M497.4 180.3H498.6" stroke="#1a1aff" class="eb"/>
<circle cx="498.0" cy="178.7" r="1.05" fill="#1a1aff"/>
<path d="M378.0 242.8V246.0M377.4 242.8H378.6M377.4 246.0H378.6" stroke="#ff9933" class="eb"/>
<circle cx="378.0" cy="244.4" r="1.05" fill="#ff9933"/>
<path d="M438.0 158.7V163.7M437.4 158.7H438.6M437.4 163.7H438.6" stroke="#ff9933" class="eb"/>
<circle cx="438.0" cy="161.2" r="1.05" fill="#ff9933"/>
<path d="M498.0 199.6V202.8M497.4 199.6H498.6M497.4 202.8H498.6" stroke="#ff9933" class="eb"/>
<circle cx="498.0" cy="201.2" r="1.05" fill="#ff9933"/>
<text x="373.2" y="182.00" class="lb" fill="#1a1aff">fg</text>
<text x="373.2" y="187.88" class="lb" fill="#006633">g-i</text>
<text x="373.2" y="193.76" class="lb" fill="#ffcc99">ij</text>
<text x="373.2" y="199.64" class="lb" fill="#800080">kl</text>
<text x="373.2" y="205.52" class="lb" fill="#996633">lm</text>
<text x="373.2" y="211.40" class="lb" fill="#cc33ff">mo</text>
<text x="373.2" y="217.28" class="lb" fill="#000000">o</text>
<text x="373.2" y="223.16" class="lb" fill="#b30000">pq</text>
<text x="373.2" y="229.04" class="lb" fill="#33cc33">q</text>
<text x="373.2" y="234.92" class="lb" fill="#ff1a1a">r</text>
<text x="373.2" y="240.80" class="lb" fill="#1a1aff">s</text>
<text x="373.2" y="246.68" class="lb" fill="#ff9933">s</text>
<text x="439.3" y="182.00" class="lb" fill="#ff9933">a</text>
<text x="439.3" y="187.88" class="lb" fill="#33cc33">b</text>
<text x="439.3" y="193.76" class="lb" fill="#000099">bc</text>
<text x="439.3" y="199.64" class="lb" fill="#cc33ff">de</text>
<text x="439.3" y="205.52" class="lb" fill="#000099">e</text>
<text x="439.3" y="211.40" class="lb" fill="#800080">f</text>
<text x="439.3" y="217.28" class="lb" fill="#ff1a1a">i</text>
<text x="439.3" y="223.16" class="lb" fill="#000000">gh</text>
<text x="439.3" y="229.04" class="lb" fill="#996633">ij</text>
<text x="439.3" y="234.92" class="lb" fill="#b30000">i-k</text>
<text x="439.3" y="240.80" class="lb" fill="#006633">i-k</text>
<text x="439.3" y="246.68" class="lb" fill="#ff1a1a">op</text>
<text x="499.3" y="182.00" class="lb" fill="#1a1aff">b</text>
<text x="499.3" y="187.88" class="lb" fill="#cc33ff">bc</text>
<text x="499.3" y="193.76" class="lb" fill="#ff9933">g</text>
<text x="499.3" y="199.64" class="lb" fill="#ffcc99">g-i</text>
<text x="499.3" y="205.52" class="lb" fill="#000099">h-j</text>
<text x="499.3" y="211.40" class="lb" fill="#996633">i-k</text>
<text x="499.3" y="217.28" class="lb" fill="#800080">jk</text>
<text x="499.3" y="223.16" class="lb" fill="#33cc33">lm</text>
<text x="499.3" y="229.04" class="lb" fill="#b30000">mn</text>
<text x="499.3" y="234.92" class="lb" fill="#ff1a1a">no</text>
<text x="499.3" y="240.80" class="lb" fill="#006633">o</text>
<text x="499.3" y="246.68" class="lb" fill="#000000">op</text>
<text x="535.6" y="141.7" class="ttl">H.</text>
<path d="M549.1 150.9V247.3H679.1" class="ax"/>
<path d="M548.1 151.40H549.1" class="ax"/>
<text transform="translate(547.90 153.20)" class="tk" text-anchor="end">125</text>
<path d="M548.1 165.10H549.1" class="ax"/>
<text transform="translate(547.90 166.90)" class="tk" text-anchor="end">115</text>
<path d="M548.1 178.80H549.1" class="ax"/>
<text transform="translate(547.90 180.60)" class="tk" text-anchor="end">105</text>
<path d="M548.1 192.50H549.1" class="ax"/>
<text transform="translate(547.90 194.30)" class="tk" text-anchor="end">95</text>
<path d="M548.1 206.20H549.1" class="ax"/>
<text transform="translate(547.90 208.00)" class="tk" text-anchor="end">85</text>
<path d="M548.1 219.90H549.1" class="ax"/>
<text transform="translate(547.90 221.70)" class="tk" text-anchor="end">75</text>
<path d="M548.1 233.60H549.1" class="ax"/>
<text transform="translate(547.90 235.40)" class="tk" text-anchor="end">65</text>
<path d="M548.1 247.30H549.1" class="ax"/>
<text transform="translate(547.90 249.10)" class="tk" text-anchor="end">55</text>
<path d="M555.1 247.3V248.3" class="ax"/>
<text x="555.30" y="253.00" class="tk" text-anchor="middle">2020</text>
<path d="M615.1 247.3V248.3" class="ax"/>
<text x="615.30" y="253.00" class="tk" text-anchor="middle">2021</text>
<path d="M675.1 247.3V248.3" class="ax"/>
<text x="675.30" y="253.00" class="tk" text-anchor="middle">2022</text>
<text x="612.5" y="259.30" class="yt yrs" text-anchor="middle">Years</text>
<text transform="translate(535.9 198.6) rotate(-90)" class="yt" text-anchor="middle">Iron (mg kg⁻¹)</text>
<polyline points="555.1,196.0 615.1,159.0 675.1,170.0" stroke="#ffcc99" class="ln"/>
<polyline points="555.1,185.0 615.1,195.5 675.1,179.0" stroke="#006633" class="ln"/>
<polyline points="555.1,199.0 615.1,190.7 675.1,200.2" stroke="#996633" class="ln"/>
<polyline points="555.1,197.0 615.1,185.0 675.1,207.0" stroke="#000099" class="ln"/>
<polyline points="555.1,218.0 615.1,185.0 675.1,186.5" stroke="#000000" class="ln"/>
<polyline points="555.1,219.0 615.1,177.0 675.1,186.5" stroke="#b30000" class="ln"/>
<polyline points="555.1,223.4 615.1,166.4 675.1,189.6" stroke="#800080" class="ln"/>
<polyline points="555.1,204.4 615.1,165.4 675.1,166.0" stroke="#cc33ff" class="ln"/>
<polyline points="555.1,218.0 615.1,162.2 675.1,170.2" stroke="#ff9933" class="ln"/>
<polyline points="555.1,213.9 615.1,156.0 675.1,201.2" stroke="#33cc33" class="ln"/>
<polyline points="555.1,221.3 615.1,185.0 675.1,232.2" stroke="#1a1aff" class="ln"/>
<polyline points="555.1,231.8 615.1,202.7 675.1,240.2" stroke="#ff1a1a" class="ln"/>
<path d="M555.1 194.4V197.6M554.5 194.4H555.7M554.5 197.6H555.7" stroke="#ffcc99" class="eb"/>
<circle cx="555.1" cy="196.0" r="1.05" fill="#ffcc99"/>
<path d="M615.1 157.4V160.6M614.5 157.4H615.7M614.5 160.6H615.7" stroke="#ffcc99" class="eb"/>
<circle cx="615.1" cy="159.0" r="1.05" fill="#ffcc99"/>
<path d="M675.1 168.4V171.6M674.5 168.4H675.7M674.5 171.6H675.7" stroke="#ffcc99" class="eb"/>
<circle cx="675.1" cy="170.0" r="1.05" fill="#ffcc99"/>
<path d="M555.1 183.4V186.6M554.5 183.4H555.7M554.5 186.6H555.7" stroke="#006633" class="eb"/>
<circle cx="555.1" cy="185.0" r="1.05" fill="#006633"/>
<path d="M615.1 193.9V197.1M614.5 193.9H615.7M614.5 197.1H615.7" stroke="#006633" class="eb"/>
<circle cx="615.1" cy="195.5" r="1.05" fill="#006633"/>
<path d="M675.1 177.4V180.6M674.5 177.4H675.7M674.5 180.6H675.7" stroke="#006633" class="eb"/>
<circle cx="675.1" cy="179.0" r="1.05" fill="#006633"/>
<path d="M555.1 197.4V200.6M554.5 197.4H555.7M554.5 200.6H555.7" stroke="#996633" class="eb"/>
<rect x="554.10" y="198.00" width="2" height="2" fill="#996633"/>
<path d="M615.1 189.1V192.3M614.5 189.1H615.7M614.5 192.3H615.7" stroke="#996633" class="eb"/>
<rect x="614.10" y="189.70" width="2" height="2" fill="#996633"/>
<path d="M675.1 198.6V201.8M674.5 198.6H675.7M674.5 201.8H675.7" stroke="#996633" class="eb"/>
<rect x="674.10" y="199.20" width="2" height="2" fill="#996633"/>
<path d="M555.1 195.4V198.6M554.5 195.4H555.7M554.5 198.6H555.7" stroke="#000099" class="eb"/>
<path d="M555.10 195.70L556.30 197.90H553.90Z" fill="#000099"/>
<path d="M615.1 183.4V186.6M614.5 183.4H615.7M614.5 186.6H615.7" stroke="#000099" class="eb"/>
<path d="M615.10 183.70L616.30 185.90H613.90Z" fill="#000099"/>
<path d="M675.1 205.4V208.6M674.5 205.4H675.7M674.5 208.6H675.7" stroke="#000099" class="eb"/>
<path d="M675.10 205.70L676.30 207.90H673.90Z" fill="#000099"/>
<path d="M555.1 216.4V219.6M554.5 216.4H555.7M554.5 219.6H555.7" stroke="#000000" class="eb"/>
<circle cx="555.1" cy="218.0" r="1.05" fill="#000000"/>
<path d="M615.1 183.4V186.6M614.5 183.4H615.7M614.5 186.6H615.7" stroke="#000000" class="eb"/>
<circle cx="615.1" cy="185.0" r="1.05" fill="#000000"/>
<path d="M675.1 184.9V188.1M674.5 184.9H675.7M674.5 188.1H675.7" stroke="#000000" class="eb"/>
<circle cx="675.1" cy="186.5" r="1.05" fill="#000000"/>
<path d="M555.1 217.4V220.6M554.5 217.4H555.7M554.5 220.6H555.7" stroke="#b30000" class="eb"/>
<circle cx="555.1" cy="219.0" r="1.05" fill="#b30000"/>
<path d="M615.1 174.0V180.0M614.5 174.0H615.7M614.5 180.0H615.7" stroke="#b30000" class="eb"/>
<circle cx="615.1" cy="177.0" r="1.05" fill="#b30000"/>
<path d="M675.1 184.9V188.1M674.5 184.9H675.7M674.5 188.1H675.7" stroke="#b30000" class="eb"/>
<circle cx="675.1" cy="186.5" r="1.05" fill="#b30000"/>
<path d="M555.1 221.8V225.0M554.5 221.8H555.7M554.5 225.0H555.7" stroke="#800080" class="eb"/>
<circle cx="555.1" cy="223.4" r="1.05" fill="#800080"/>
<path d="M615.1 164.8V168.0M614.5 164.8H615.7M614.5 168.0H615.7" stroke="#800080" class="eb"/>
<circle cx="615.1" cy="166.4" r="1.05" fill="#800080"/>
<path d="M675.1 188.0V191.2M674.5 188.0H675.7M674.5 191.2H675.7" stroke="#800080" class="eb"/>
<circle cx="675.1" cy="189.6" r="1.05" fill="#800080"/>
<path d="M555.1 202.8V206.0M554.5 202.8H555.7M554.5 206.0H555.7" stroke="#cc33ff" class="eb"/>
<circle cx="555.1" cy="204.4" r="1.05" fill="#cc33ff"/>
<path d="M615.1 163.8V167.0M614.5 163.8H615.7M614.5 167.0H615.7" stroke="#cc33ff" class="eb"/>
<circle cx="615.1" cy="165.4" r="1.05" fill="#cc33ff"/>
<path d="M675.1 164.4V167.6M674.5 164.4H675.7M674.5 167.6H675.7" stroke="#cc33ff" class="eb"/>
<circle cx="675.1" cy="166.0" r="1.05" fill="#cc33ff"/>
<path d="M555.1 216.4V219.6M554.5 216.4H555.7M554.5 219.6H555.7" stroke="#ff9933" class="eb"/>
<circle cx="555.1" cy="218.0" r="1.05" fill="#ff9933"/>
<path d="M615.1 160.6V163.8M614.5 160.6H615.7M614.5 163.8H615.7" stroke="#ff9933" class="eb"/>
<circle cx="615.1" cy="162.2" r="1.05" fill="#ff9933"/>
<path d="M675.1 168.6V171.8M674.5 168.6H675.7M674.5 171.8H675.7" stroke="#ff9933" class="eb"/>
<circle cx="675.1" cy="170.2" r="1.05" fill="#ff9933"/>
<path d="M555.1 212.3V215.5M554.5 212.3H555.7M554.5 215.5H555.7" stroke="#33cc33" class="eb"/>
<circle cx="555.1" cy="213.9" r="1.05" fill="#33cc33"/>
<path d="M615.1 154.4V157.6M614.5 154.4H615.7M614.5 157.6H615.7" stroke="#33cc33" class="eb"/>
<circle cx="615.1" cy="156.0" r="1.05" fill="#33cc33"/>
<path d="M675.1 199.6V202.8M674.5 199.6H675.7M674.5 202.8H675.7" stroke="#33cc33" class="eb"/>
<circle cx="675.1" cy="201.2" r="1.05" fill="#33cc33"/>
<path d="M555.1 219.7V222.9M554.5 219.7H555.7M554.5 222.9H555.7" stroke="#1a1aff" class="eb"/>
<circle cx="555.1" cy="221.3" r="1.05" fill="#1a1aff"/>
<path d="M615.1 183.4V186.6M614.5 183.4H615.7M614.5 186.6H615.7" stroke="#1a1aff" class="eb"/>
<circle cx="615.1" cy="185.0" r="1.05" fill="#1a1aff"/>
<path d="M675.1 230.6V233.8M674.5 230.6H675.7M674.5 233.8H675.7" stroke="#1a1aff" class="eb"/>
<circle cx="675.1" cy="232.2" r="1.05" fill="#1a1aff"/>
<path d="M555.1 230.2V233.4M554.5 230.2H555.7M554.5 233.4H555.7" stroke="#ff1a1a" class="eb"/>
<circle cx="555.1" cy="231.8" r="1.05" fill="#ff1a1a"/>
<path d="M615.1 199.7V205.7M614.5 199.7H615.7M614.5 205.7H615.7" stroke="#ff1a1a" class="eb"/>
<circle cx="615.1" cy="202.7" r="1.05" fill="#ff1a1a"/>
<path d="M675.1 238.6V241.8M674.5 238.6H675.7M674.5 241.8H675.7" stroke="#ff1a1a" class="eb"/>
<circle cx="675.1" cy="240.2" r="1.05" fill="#ff1a1a"/>
<text x="550.1" y="182.00" class="lb" fill="#006633">f</text>
<text x="550.1" y="187.88" class="lb" fill="#ffcc99">hi</text>
<text x="550.1" y="193.76" class="lb" fill="#000099">jk</text>
<text x="550.1" y="199.64" class="lb" fill="#996633">j-l</text>
<text x="550.1" y="205.52" class="lb" fill="#cc33ff">m</text>
<text x="550.1" y="211.40" class="lb" fill="#800080">mo</text>
<text x="550.1" y="217.28" class="lb" fill="#33cc33">p</text>
<text x="550.1" y="223.16" class="lb" fill="#000000">q</text>
<text x="550.1" y="229.04" class="lb" fill="#1a1aff">qr</text>
<text x="550.1" y="234.92" class="lb" fill="#ff9933">qr</text>
<text x="550.1" y="240.80" class="lb" fill="#b30000">r</text>
<text x="550.1" y="246.68" class="lb" fill="#ff1a1a">s</text>
<text x="616.4" y="182.00" class="lb" fill="#33cc33">a</text>
<text x="616.4" y="187.88" class="lb" fill="#ff9933">a</text>
<text x="616.4" y="193.76" class="lb" fill="#cc33ff">b</text>
<text x="616.4" y="199.64" class="lb" fill="#ff9933">b</text>
<text x="616.4" y="205.52" class="lb" fill="#800080">bc</text>
<text x="616.4" y="211.40" class="lb" fill="#b30000">e</text>
<text x="616.4" y="217.28" class="lb" fill="#1a1aff">f</text>
<text x="616.4" y="223.16" class="lb" fill="#000000">f</text>
<text x="616.4" y="229.04" class="lb" fill="#000099">f</text>
<text x="616.4" y="234.92" class="lb" fill="#996633">hi</text>
<text x="616.4" y="240.80" class="lb" fill="#33cc33">j</text>
<text x="616.4" y="246.68" class="lb" fill="#ff1a1a">l-o</text>
<text x="676.4" y="182.00" class="lb" fill="#cc33ff">bc</text>
<text x="676.4" y="187.88" class="lb" fill="#ffcc99">cd</text>
<text x="676.4" y="193.76" class="lb" fill="#ff9933">d</text>
<text x="676.4" y="199.64" class="lb" fill="#006633">e</text>
<text x="676.4" y="205.52" class="lb" fill="#b30000">fg</text>
<text x="676.4" y="211.40" class="lb" fill="#000000">f-h</text>
<text x="676.4" y="217.28" class="lb" fill="#800080">gh</text>
<text x="676.4" y="223.16" class="lb" fill="#996633">k-m</text>
<text x="676.4" y="229.04" class="lb" fill="#33cc33">l-n</text>
<text x="676.4" y="234.92" class="lb" fill="#000099">o</text>
<text x="676.4" y="240.80" class="lb" fill="#1a1aff">r</text>
<text x="676.4" y="246.68" class="lb" fill="#ff1a1a">t</text>
<text x="3.6" y="280.8" class="ttl">I.</text>
<path d="M14.1 288.9V386.0H144.1" class="ax"/>
<path d="M13.1 289.40H14.1" class="ax"/>
<text transform="translate(12.90 291.20)" class="tk" text-anchor="end">40</text>
<path d="M13.1 305.50H14.1" class="ax"/>
<text transform="translate(12.90 307.30)" class="tk" text-anchor="end">35</text>
<path d="M13.1 321.60H14.1" class="ax"/>
<text transform="translate(12.90 323.40)" class="tk" text-anchor="end">30</text>
<path d="M13.1 337.70H14.1" class="ax"/>
<text transform="translate(12.90 339.50)" class="tk" text-anchor="end">25</text>
<path d="M13.1 353.80H14.1" class="ax"/>
<text transform="translate(12.90 355.60)" class="tk" text-anchor="end">20</text>
<path d="M13.1 369.90H14.1" class="ax"/>
<text transform="translate(12.90 371.70)" class="tk" text-anchor="end">15</text>
<path d="M13.1 386.00H14.1" class="ax"/>
<text transform="translate(12.90 387.80)" class="tk" text-anchor="end">10</text>
<path d="M20.7 386.0V387.0" class="ax"/>
<text x="20.90" y="391.70" class="tk" text-anchor="middle">2020</text>
<path d="M80.7 386.0V387.0" class="ax"/>
<text x="80.90" y="391.70" class="tk" text-anchor="middle">2021</text>
<path d="M140.7 386.0V387.0" class="ax"/>
<text x="140.90" y="391.70" class="tk" text-anchor="middle">2022</text>
<text x="77.5" y="398.10" class="yt yrs" text-anchor="middle">Years</text>
<text transform="translate(4.5 336.9) rotate(-90)" class="yt" text-anchor="middle">Zinc (mg kg⁻¹)</text>
<polyline points="20.7,357.0 80.7,325.0 140.7,349.8" stroke="#ffcc99" class="ln"/>
<polyline points="20.7,351.9 80.7,357.1 140.7,336.0" stroke="#006633" class="ln"/>
<polyline points="20.7,372.0 80.7,331.8 140.7,343.4" stroke="#996633" class="ln"/>
<polyline points="20.7,370.8 80.7,341.3 140.7,335.0" stroke="#000000" class="ln"/>
<polyline points="20.7,379.3 80.7,330.8 140.7,354.0" stroke="#33cc33" class="ln"/>
<polyline points="20.7,378.0 80.7,328.7 140.7,335.0" stroke="#cc33ff" class="ln"/>
<polyline points="20.7,371.0 80.7,326.6 140.7,339.2" stroke="#ff9933" class="ln"/>
<polyline points="20.7,368.0 80.7,329.7 140.7,318.0" stroke="#b30000" class="ln"/>
<polyline points="20.7,380.3 80.7,356.1 140.7,370.8" stroke="#ff1a1a" class="ln"/>
<polyline points="20.7,380.3 80.7,358.2 140.7,370.8" stroke="#1a1aff" class="ln"/>
<polyline points="20.7,358.8 80.7,311.2 140.7,331.4" stroke="#000099" class="ln"/>
<polyline points="20.7,356.1 80.7,304.9 140.7,317.5" stroke="#800080" class="ln"/>
<path d="M20.7 355.4V358.6M20.099999999999998 355.4H21.3M20.099999999999998 358.6H21.3" stroke="#ffcc99" class="eb"/>
<circle cx="20.7" cy="357.0" r="1.05" fill="#ffcc99"/>
<path d="M80.7 323.4V326.6M80.10000000000001 323.4H81.3M80.10000000000001 326.6H81.3" stroke="#ffcc99" class="eb"/>
<circle cx="80.7" cy="325.0" r="1.05" fill="#ffcc99"/>
<path d="M140.7 348.2V351.4M140.1 348.2H141.29999999999998M140.1 351.4H141.29999999999998" stroke="#ffcc99" class="eb"/>
<circle cx="140.7" cy="349.8" r="1.05" fill="#ffcc99"/>
<path d="M20.7 350.3V353.5M20.099999999999998 350.3H21.3M20.099999999999998 353.5H21.3" stroke="#006633" class="eb"/>
<circle cx="20.7" cy="351.9" r="1.05" fill="#006633"/>
<path d="M80.7 355.5V358.7M80.10000000000001 355.5H81.3M80.10000000000001 358.7H81.3" stroke="#006633" class="eb"/>
<circle cx="80.7" cy="357.1" r="1.05" fill="#006633"/>
<path d="M140.7 334.4V337.6M140.1 334.4H141.29999999999998M140.1 337.6H141.29999999999998" stroke="#006633" class="eb"/>
<circle cx="140.7" cy="336.0" r="1.05" fill="#006633"/>
<path d="M20.7 370.4V373.6M20.099999999999998 370.4H21.3M20.099999999999998 373.6H21.3" stroke="#996633" class="eb"/>
<rect x="19.70" y="371.00" width="2" height="2" fill="#996633"/>
<path d="M80.7 330.2V333.4M80.10000000000001 330.2H81.3M80.10000000000001 333.4H81.3" stroke="#996633" class="eb"/>
<rect x="79.70" y="330.80" width="2" height="2" fill="#996633"/>
<path d="M140.7 341.8V345.0M140.1 341.8H141.29999999999998M140.1 345.0H141.29999999999998" stroke="#996633" class="eb"/>
<rect x="139.70" y="342.40" width="2" height="2" fill="#996633"/>
<path d="M20.7 369.2V372.4M20.099999999999998 369.2H21.3M20.099999999999998 372.4H21.3" stroke="#000000" class="eb"/>
<circle cx="20.7" cy="370.8" r="1.05" fill="#000000"/>
<path d="M80.7 339.7V342.9M80.10000000000001 339.7H81.3M80.10000000000001 342.9H81.3" stroke="#000000" class="eb"/>
<circle cx="80.7" cy="341.3" r="1.05" fill="#000000"/>
<path d="M140.7 333.4V336.6M140.1 333.4H141.29999999999998M140.1 336.6H141.29999999999998" stroke="#000000" class="eb"/>
<circle cx="140.7" cy="335.0" r="1.05" fill="#000000"/>
<path d="M20.7 377.7V380.9M20.099999999999998 377.7H21.3M20.099999999999998 380.9H21.3" stroke="#33cc33" class="eb"/>
<circle cx="20.7" cy="379.3" r="1.05" fill="#33cc33"/>
<path d="M80.7 329.2V332.4M80.10000000000001 329.2H81.3M80.10000000000001 332.4H81.3" stroke="#33cc33" class="eb"/>
<circle cx="80.7" cy="330.8" r="1.05" fill="#33cc33"/>
<path d="M140.7 352.4V355.6M140.1 352.4H141.29999999999998M140.1 355.6H141.29999999999998" stroke="#33cc33" class="eb"/>
<circle cx="140.7" cy="354.0" r="1.05" fill="#33cc33"/>
<path d="M20.7 376.4V379.6M20.099999999999998 376.4H21.3M20.099999999999998 379.6H21.3" stroke="#cc33ff" class="eb"/>
<circle cx="20.7" cy="378.0" r="1.05" fill="#cc33ff"/>
<path d="M80.7 327.1V330.3M80.10000000000001 327.1H81.3M80.10000000000001 330.3H81.3" stroke="#cc33ff" class="eb"/>
<circle cx="80.7" cy="328.7" r="1.05" fill="#cc33ff"/>
<path d="M140.7 333.4V336.6M140.1 333.4H141.29999999999998M140.1 336.6H141.29999999999998" stroke="#cc33ff" class="eb"/>
<circle cx="140.7" cy="335.0" r="1.05" fill="#cc33ff"/>
<path d="M20.7 369.4V372.6M20.099999999999998 369.4H21.3M20.099999999999998 372.6H21.3" stroke="#ff9933" class="eb"/>
<circle cx="20.7" cy="371.0" r="1.05" fill="#ff9933"/>
<path d="M80.7 325.0V328.2M80.10000000000001 325.0H81.3M80.10000000000001 328.2H81.3" stroke="#ff9933" class="eb"/>
<circle cx="80.7" cy="326.6" r="1.05" fill="#ff9933"/>
<path d="M140.7 337.6V340.8M140.1 337.6H141.29999999999998M140.1 340.8H141.29999999999998" stroke="#ff9933" class="eb"/>
<circle cx="140.7" cy="339.2" r="1.05" fill="#ff9933"/>
<path d="M20.7 366.4V369.6M20.099999999999998 366.4H21.3M20.099999999999998 369.6H21.3" stroke="#b30000" class="eb"/>
<circle cx="20.7" cy="368.0" r="1.05" fill="#b30000"/>
<path d="M80.7 328.1V331.3M80.10000000000001 328.1H81.3M80.10000000000001 331.3H81.3" stroke="#b30000" class="eb"/>
<circle cx="80.7" cy="329.7" r="1.05" fill="#b30000"/>
<path d="M140.7 316.4V319.6M140.1 316.4H141.29999999999998M140.1 319.6H141.29999999999998" stroke="#b30000" class="eb"/>
<circle cx="140.7" cy="318.0" r="1.05" fill="#b30000"/>
<path d="M20.7 378.7V381.9M20.099999999999998 378.7H21.3M20.099999999999998 381.9H21.3" stroke="#ff1a1a" class="eb"/>
<circle cx="20.7" cy="380.3" r="1.05" fill="#ff1a1a"/>
<path d="M80.7 354.5V357.7M80.10000000000001 354.5H81.3M80.10000000000001 357.7H81.3" stroke="#ff1a1a" class="eb"/>
<circle cx="80.7" cy="356.1" r="1.05" fill="#ff1a1a"/>
<path d="M140.7 369.2V372.4M140.1 369.2H141.29999999999998M140.1 372.4H141.29999999999998" stroke="#ff1a1a" class="eb"/>
<circle cx="140.7" cy="370.8" r="1.05" fill="#ff1a1a"/>
<path d="M20.7 378.7V381.9M20.099999999999998 378.7H21.3M20.099999999999998 381.9H21.3" stroke="#1a1aff" class="eb"/>
<circle cx="20.7" cy="380.3" r="1.05" fill="#1a1aff"/>
<path d="M80.7 356.6V359.8M80.10000000000001 356.6H81.3M80.10000000000001 359.8H81.3" stroke="#1a1aff" class="eb"/>
<circle cx="80.7" cy="358.2" r="1.05" fill="#1a1aff"/>
<path d="M140.7 369.2V372.4M140.1 369.2H141.29999999999998M140.1 372.4H141.29999999999998" stroke="#1a1aff" class="eb"/>
<circle cx="140.7" cy="370.8" r="1.05" fill="#1a1aff"/>
<path d="M20.7 357.2V360.4M20.099999999999998 357.2H21.3M20.099999999999998 360.4H21.3" stroke="#000099" class="eb"/>
<path d="M20.70 357.50L21.90 359.70H19.50Z" fill="#000099"/>
<path d="M80.7 309.2V313.2M80.10000000000001 309.2H81.3M80.10000000000001 313.2H81.3" stroke="#000099" class="eb"/>
<path d="M80.70 309.90L81.90 312.10H79.50Z" fill="#000099"/>
<path d="M140.7 329.8V333.0M140.1 329.8H141.29999999999998M140.1 333.0H141.29999999999998" stroke="#000099" class="eb"/>
<path d="M140.70 330.10L141.90 332.30H139.50Z" fill="#000099"/>
<path d="M20.7 354.5V357.7M20.099999999999998 354.5H21.3M20.099999999999998 357.7H21.3" stroke="#800080" class="eb"/>
<circle cx="20.7" cy="356.1" r="1.05" fill="#800080"/>
<path d="M80.7 302.4V307.4M80.10000000000001 302.4H81.3M80.10000000000001 307.4H81.3" stroke="#800080" class="eb"/>
<circle cx="80.7" cy="304.9" r="1.05" fill="#800080"/>
<path d="M140.7 315.9V319.1M140.1 315.9H141.29999999999998M140.1 319.1H141.29999999999998" stroke="#800080" class="eb"/>
<circle cx="140.7" cy="317.5" r="1.05" fill="#800080"/>
<text x="15.1" y="320.80" class="lb" fill="#006633">lm</text>
<text x="15.1" y="326.68" class="lb" fill="#800080">no</text>
<text x="15.1" y="332.56" class="lb" fill="#ffcc99">no</text>
<text x="15.1" y="338.44" class="lb" fill="#000099">o</text>
<text x="15.1" y="344.32" class="lb" fill="#000000">p</text>
<text x="15.1" y="350.20" class="lb" fill="#996633">p</text>
<text x="15.1" y="356.08" class="lb" fill="#b30000">p</text>
<text x="15.1" y="361.96" class="lb" fill="#1a1aff">q</text>
<text x="15.1" y="367.84" class="lb" fill="#ff1a1a">q</text>
<text x="15.1" y="373.72" class="lb" fill="#33cc33">q</text>
<text x="15.1" y="379.60" class="lb" fill="#cc33ff">q</text>
<text x="15.1" y="385.48" class="lb" fill="#ff9933">q</text>
<text x="82.0" y="320.80" class="lb" fill="#800080">a</text>
<text x="82.0" y="326.68" class="lb" fill="#000099">b</text>
<text x="82.0" y="332.56" class="lb" fill="#ff9933">c</text>
<text x="82.0" y="338.44" class="lb" fill="#cc33ff">de</text>
<text x="82.0" y="344.32" class="lb" fill="#33cc33">ef</text>
<text x="82.0" y="350.20" class="lb" fill="#996633">ef</text>
<text x="82.0" y="356.08" class="lb" fill="#b30000">f-h</text>
<text x="82.0" y="361.96" class="lb" fill="#ffcc99">f-i</text>
<text x="82.0" y="367.84" class="lb" fill="#000000">jk</text>
<text x="82.0" y="373.72" class="lb" fill="#1a1aff">no</text>
<text x="82.0" y="379.60" class="lb" fill="#ff1a1a">no</text>
<text x="82.0" y="385.48" class="lb" fill="#006633">o</text>
<text x="142.0" y="320.80" class="lb" fill="#b30000">bc</text>
<text x="142.0" y="326.68" class="lb" fill="#ff9933">c</text>
<text x="142.0" y="332.56" class="lb" fill="#000099">d-g</text>
<text x="142.0" y="338.44" class="lb" fill="#000000">gh</text>
<text x="142.0" y="344.32" class="lb" fill="#cc33ff">h</text>
<text x="142.0" y="350.20" class="lb" fill="#006633">hi</text>
<text x="142.0" y="356.08" class="lb" fill="#33cc33">ij</text>
<text x="142.0" y="361.96" class="lb" fill="#996633">k</text>
<text x="142.0" y="367.84" class="lb" fill="#ffcc99">l</text>
<text x="142.0" y="373.72" class="lb" fill="#33cc33">mn</text>
<text x="142.0" y="379.60" class="lb" fill="#1a1aff">p</text>
<text x="142.0" y="385.48" class="lb" fill="#ff1a1a">p</text>
<text x="178.5" y="280.8" class="ttl">J.</text>
<path d="M191.3 288.9V386.0H321.3" class="ax"/>
<path d="M190.3 289.40H191.3" class="ax"/>
<text transform="translate(190.10 291.20)" class="tk" text-anchor="end">16</text>
<path d="M190.3 305.50H191.3" class="ax"/>
<text transform="translate(190.10 307.30)" class="tk" text-anchor="end">14</text>
<path d="M190.3 321.60H191.3" class="ax"/>
<text transform="translate(190.10 323.40)" class="tk" text-anchor="end">12</text>
<path d="M190.3 337.70H191.3" class="ax"/>
<text transform="translate(190.10 339.50)" class="tk" text-anchor="end">10</text>
<path d="M190.3 353.80H191.3" class="ax"/>
<text transform="translate(190.10 355.60)" class="tk" text-anchor="end">8</text>
<path d="M190.3 369.90H191.3" class="ax"/>
<text transform="translate(190.10 371.70)" class="tk" text-anchor="end">6</text>
<path d="M190.3 386.00H191.3" class="ax"/>
<text transform="translate(190.10 387.80)" class="tk" text-anchor="end">4</text>
<path d="M197.4 386.0V387.0" class="ax"/>
<text x="197.60" y="391.70" class="tk" text-anchor="middle">2020</text>
<path d="M257.4 386.0V387.0" class="ax"/>
<text x="257.60" y="391.70" class="tk" text-anchor="middle">2021</text>
<path d="M317.4 386.0V387.0" class="ax"/>
<text x="317.60" y="391.70" class="tk" text-anchor="middle">2022</text>
<text x="254.7" y="398.10" class="yt yrs" text-anchor="middle">Years</text>
<text transform="translate(181.0 336.9) rotate(-90)" class="yt" text-anchor="middle">Boron (mg kg⁻¹)</text>
<polyline points="197.4,350.0 257.4,359.0 317.4,350.0" stroke="#ffcc99" class="ln"/>
<polyline points="197.4,337.1 257.4,360.3 317.4,355.0" stroke="#006633" class="ln"/>
<polyline points="197.4,352.5 257.4,351.9 317.4,347.0" stroke="#996633" class="ln"/>
<polyline points="197.4,346.2 257.4,351.9 317.4,349.8" stroke="#000099" class="ln"/>
<polyline points="197.4,365.6 257.4,365.2 317.4,367.7" stroke="#800080" class="ln"/>
<polyline points="197.4,365.6 257.4,337.1 317.4,354.0" stroke="#b30000" class="ln"/>
<polyline points="197.4,352.9 257.4,339.9 317.4,315.0" stroke="#000000" class="ln"/>
<polyline points="197.4,378.2 257.4,345.5 317.4,356.1" stroke="#1a1aff" class="ln"/>
<polyline points="197.4,376.1 257.4,335.0 317.4,367.7" stroke="#ff1a1a" class="ln"/>
<polyline points="197.4,344.5 257.4,298.1 317.4,307.6" stroke="#cc33ff" class="ln"/>
<polyline points="197.4,363.5 257.4,296.0 317.4,305.5" stroke="#ff9933" class="ln"/>
<polyline points="197.4,359.3 257.4,295.0 317.4,324.5" stroke="#33cc33" class="ln"/>
<path d="M197.4 348.4V351.6M196.8 348.4H198.0M196.8 351.6H198.0" stroke="#ffcc99" class="eb"/>
<circle cx="197.4" cy="350.0" r="1.05" fill="#ffcc99"/>
<path d="M257.4 357.4V360.6M256.79999999999995 357.4H258.0M256.79999999999995 360.6H258.0" stroke="#ffcc99" class="eb"/>
<circle cx="257.4" cy="359.0" r="1.05" fill="#ffcc99"/>
<path d="M317.4 348.4V351.6M316.79999999999995 348.4H318.0M316.79999999999995 351.6H318.0" stroke="#ffcc99" class="eb"/>
<circle cx="317.4" cy="350.0" r="1.05" fill="#ffcc99"/>
<path d="M197.4 335.5V338.7M196.8 335.5H198.0M196.8 338.7H198.0" stroke="#006633" class="eb"/>
<circle cx="197.4" cy="337.1" r="1.05" fill="#006633"/>
<path d="M257.4 358.7V361.9M256.79999999999995 358.7H258.0M256.79999999999995 361.9H258.0" stroke="#006633" class="eb"/>
<circle cx="257.4" cy="360.3" r="1.05" fill="#006633"/>
<path d="M317.4 353.4V356.6M316.79999999999995 353.4H318.0M316.79999999999995 356.6H318.0" stroke="#006633" class="eb"/>
<circle cx="317.4" cy="355.0" r="1.05" fill="#006633"/>
<path d="M197.4 350.9V354.1M196.8 350.9H198.0M196.8 354.1H198.0" stroke="#996633" class="eb"/>
<rect x="196.40" y="351.50" width="2" height="2" fill="#996633"/>
<path d="M257.4 350.3V353.5M256.79999999999995 350.3H258.0M256.79999999999995 353.5H258.0" stroke="#996633" class="eb"/>
<rect x="256.40" y="350.90" width="2" height="2" fill="#996633"/>
<path d="M317.4 345.4V348.6M316.79999999999995 345.4H318.0M316.79999999999995 348.6H318.0" stroke="#996633" class="eb"/>
<rect x="316.40" y="346.00" width="2" height="2" fill="#996633"/>
<path d="M197.4 344.6V347.8M196.8 344.6H198.0M196.8 347.8H198.0" stroke="#000099" class="eb"/>
<path d="M197.40 344.90L198.60 347.10H196.20Z" fill="#000099"/>
<path d="M257.4 350.3V353.5M256.79999999999995 350.3H258.0M256.79999999999995 353.5H258.0" stroke="#000099" class="eb"/>
<path d="M257.40 350.60L258.60 352.80H256.20Z" fill="#000099"/>
<path d="M317.4 348.2V351.4M316.79999999999995 348.2H318.0M316.79999999999995 351.4H318.0" stroke="#000099" class="eb"/>
<path d="M317.40 348.50L318.60 350.70H316.20Z" fill="#000099"/>
<path d="M197.4 364.0V367.2M196.8 364.0H198.0M196.8 367.2H198.0" stroke="#800080" class="eb"/>
<circle cx="197.4" cy="365.6" r="1.05" fill="#800080"/>
<path d="M257.4 363.6V366.8M256.79999999999995 363.6H258.0M256.79999999999995 366.8H258.0" stroke="#800080" class="eb"/>
<circle cx="257.4" cy="365.2" r="1.05" fill="#800080"/>
<path d="M317.4 366.1V369.3M316.79999999999995 366.1H318.0M316.79999999999995 369.3H318.0" stroke="#800080" class="eb"/>
<circle cx="317.4" cy="367.7" r="1.05" fill="#800080"/>
<path d="M197.4 364.0V367.2M196.8 364.0H198.0M196.8 367.2H198.0" stroke="#b30000" class="eb"/>
<circle cx="197.4" cy="365.6" r="1.05" fill="#b30000"/>
<path d="M257.4 335.5V338.7M256.79999999999995 335.5H258.0M256.79999999999995 338.7H258.0" stroke="#b30000" class="eb"/>
<circle cx="257.4" cy="337.1" r="1.05" fill="#b30000"/>
<path d="M317.4 352.4V355.6M316.79999999999995 352.4H318.0M316.79999999999995 355.6H318.0" stroke="#b30000" class="eb"/>
<circle cx="317.4" cy="354.0" r="1.05" fill="#b30000"/>
<path d="M197.4 351.3V354.5M196.8 351.3H198.0M196.8 354.5H198.0" stroke="#000000" class="eb"/>
<circle cx="197.4" cy="352.9" r="1.05" fill="#000000"/>
<path d="M257.4 338.3V341.5M256.79999999999995 338.3H258.0M256.79999999999995 341.5H258.0" stroke="#000000" class="eb"/>
<circle cx="257.4" cy="339.9" r="1.05" fill="#000000"/>
<path d="M317.4 313.4V316.6M316.79999999999995 313.4H318.0M316.79999999999995 316.6H318.0" stroke="#000000" class="eb"/>
<circle cx="317.4" cy="315.0" r="1.05" fill="#000000"/>
<path d="M197.4 376.6V379.8M196.8 376.6H198.0M196.8 379.8H198.0" stroke="#1a1aff" class="eb"/>
<circle cx="197.4" cy="378.2" r="1.05" fill="#1a1aff"/>
<path d="M257.4 343.9V347.1M256.79999999999995 343.9H258.0M256.79999999999995 347.1H258.0" stroke="#1a1aff" class="eb"/>
<circle cx="257.4" cy="345.5" r="1.05" fill="#1a1aff"/>
<path d="M317.4 354.5V357.7M316.79999999999995 354.5H318.0M316.79999999999995 357.7H318.0" stroke="#1a1aff" class="eb"/>
<circle cx="317.4" cy="356.1" r="1.05" fill="#1a1aff"/>
<path d="M197.4 374.5V377.7M196.8 374.5H198.0M196.8 377.7H198.0" stroke="#ff1a1a" class="eb"/>
<circle cx="197.4" cy="376.1" r="1.05" fill="#ff1a1a"/>
<path d="M257.4 333.4V336.6M256.79999999999995 333.4H258.0M256.79999999999995 336.6H258.0" stroke="#ff1a1a" class="eb"/>
<circle cx="257.4" cy="335.0" r="1.05" fill="#ff1a1a"/>
<path d="M317.4 366.1V369.3M316.79999999999995 366.1H318.0M316.79999999999995 369.3H318.0" stroke="#ff1a1a" class="eb"/>
<circle cx="317.4" cy="367.7" r="1.05" fill="#ff1a1a"/>
<path d="M197.4 342.9V346.1M196.8 342.9H198.0M196.8 346.1H198.0" stroke="#cc33ff" class="eb"/>
<circle cx="197.4" cy="344.5" r="1.05" fill="#cc33ff"/>
<path d="M257.4 296.5V299.7M256.79999999999995 296.5H258.0M256.79999999999995 299.7H258.0" stroke="#cc33ff" class="eb"/>
<circle cx="257.4" cy="298.1" r="1.05" fill="#cc33ff"/>
<path d="M317.4 306.0V309.2M316.79999999999995 306.0H318.0M316.79999999999995 309.2H318.0" stroke="#cc33ff" class="eb"/>
<circle cx="317.4" cy="307.6" r="1.05" fill="#cc33ff"/>
<path d="M197.4 361.9V365.1M196.8 361.9H198.0M196.8 365.1H198.0" stroke="#ff9933" class="eb"/>
<circle cx="197.4" cy="363.5" r="1.05" fill="#ff9933"/>
<path d="M257.4 294.4V297.6M256.79999999999995 294.4H258.0M256.79999999999995 297.6H258.0" stroke="#ff9933" class="eb"/>
<circle cx="257.4" cy="296.0" r="1.05" fill="#ff9933"/>
<path d="M317.4 303.0V308.0M316.79999999999995 303.0H318.0M316.79999999999995 308.0H318.0" stroke="#ff9933" class="eb"/>
<circle cx="317.4" cy="305.5" r="1.05" fill="#ff9933"/>
<path d="M197.4 357.7V360.9M196.8 357.7H198.0M196.8 360.9H198.0" stroke="#33cc33" class="eb"/>
<circle cx="197.4" cy="359.3" r="1.05" fill="#33cc33"/>
<path d="M257.4 292.5V297.5M256.79999999999995 292.5H258.0M256.79999999999995 297.5H258.0" stroke="#33cc33" class="eb"/>
<circle cx="257.4" cy="295.0" r="1.05" fill="#33cc33"/>
<path d="M317.4 321.5V327.5M316.79999999999995 321.5H318.0M316.79999999999995 327.5H318.0" stroke="#33cc33" class="eb"/>
<circle cx="317.4" cy="324.5" r="1.05" fill="#33cc33"/>
<text x="192.3" y="320.80" class="lb" fill="#006633">ef</text>
<text x="192.3" y="326.68" class="lb" fill="#cc33ff">g</text>
<text x="192.3" y="332.56" class="lb" fill="#1a1aff">g</text>
<text x="192.3" y="338.44" class="lb" fill="#ff9933">gh</text>
<text x="192.3" y="344.32" class="lb" fill="#996633">h-k</text>
<text x="192.3" y="350.20" class="lb" fill="#000000">i-k</text>
<text x="192.3" y="356.08" class="lb" fill="#33cc33">l</text>
<text x="192.3" y="361.96" class="lb" fill="#ff9933">m</text>
<text x="192.3" y="367.84" class="lb" fill="#800080">m</text>
<text x="192.3" y="373.72" class="lb" fill="#b30000">m</text>
<text x="192.3" y="379.60" class="lb" fill="#1a1aff">n</text>
<text x="192.3" y="385.48" class="lb" fill="#ff1a1a">n</text>
<text x="258.7" y="320.80" class="lb" fill="#33cc33">a</text>
<text x="258.7" y="326.68" class="lb" fill="#cc33ff">a</text>
<text x="258.7" y="332.56" class="lb" fill="#ff9933">a</text>
<text x="258.7" y="338.44" class="lb" fill="#b30000">de</text>
<text x="258.7" y="344.32" class="lb" fill="#ff1a1a">ef</text>
<text x="258.7" y="350.20" class="lb" fill="#000000">f</text>
<text x="258.7" y="356.08" class="lb" fill="#1a1aff">g</text>
<text x="258.7" y="361.96" class="lb" fill="#996633">h-j</text>
<text x="258.7" y="367.84" class="lb" fill="#000099">h-k</text>
<text x="258.7" y="373.72" class="lb" fill="#33cc33">l</text>
<text x="258.7" y="379.60" class="lb" fill="#ffcc99">l</text>
<text x="258.7" y="385.48" class="lb" fill="#800080">m</text>
<text x="318.7" y="320.80" class="lb" fill="#cc33ff">b</text>
<text x="318.7" y="326.68" class="lb" fill="#ff9933">b</text>
<text x="318.7" y="332.56" class="lb" fill="#000000">c</text>
<text x="318.7" y="338.44" class="lb" fill="#33cc33">d</text>
<text x="318.7" y="344.32" class="lb" fill="#996633">g</text>
<text x="318.7" y="350.20" class="lb" fill="#ffcc99">i</text>
<text x="318.7" y="356.08" class="lb" fill="#000099">p-l</text>
<text x="318.7" y="361.96" class="lb" fill="#b30000">jk</text>
<text x="318.7" y="367.84" class="lb" fill="#006633">jk</text>
<text x="318.7" y="373.72" class="lb" fill="#1a1aff">kl</text>
<text x="318.7" y="379.60" class="lb" fill="#ff1a1a">m</text>
<text x="318.7" y="385.48" class="lb" fill="#800080">m</text>
<text x="358.0" y="280.8" class="ttl">K.</text>
<path d="M369.4 288.9V386.0H499.4" class="ax"/>
<path d="M368.4 289.40H369.4" class="ax"/>
<text transform="translate(368.20 291.20)" class="tk" text-anchor="end">4.0</text>
<path d="M368.4 303.20H369.4" class="ax"/>
<text transform="translate(368.20 305.00)" class="tk" text-anchor="end">3.5</text>
<path d="M368.4 317.00H369.4" class="ax"/>
<text transform="translate(368.20 318.80)" class="tk" text-anchor="end">3.0</text>
<path d="M368.4 330.80H369.4" class="ax"/>
<text transform="translate(368.20 332.60)" class="tk" text-anchor="end">2.5</text>
<path d="M368.4 344.60H369.4" class="ax"/>
<text transform="translate(368.20 346.40)" class="tk" text-anchor="end">2.0</text>
<path d="M368.4 358.40H369.4" class="ax"/>
<text transform="translate(368.20 360.20)" class="tk" text-anchor="end">1.5</text>
<path d="M368.4 372.20H369.4" class="ax"/>
<text transform="translate(368.20 374.00)" class="tk" text-anchor="end">1.0</text>
<path d="M368.4 386.00H369.4" class="ax"/>
<text transform="translate(368.20 387.80)" class="tk" text-anchor="end">0.5</text>
<path d="M375.7 386.0V387.0" class="ax"/>
<text x="375.90" y="391.70" class="tk" text-anchor="middle">2020</text>
<path d="M435.7 386.0V387.0" class="ax"/>
<text x="435.90" y="391.70" class="tk" text-anchor="middle">2021</text>
<path d="M495.7 386.0V387.0" class="ax"/>
<text x="495.90" y="391.70" class="tk" text-anchor="middle">2022</text>
<text x="432.8" y="398.10" class="yt yrs" text-anchor="middle">Years</text>
<text transform="translate(357.4 336.9) rotate(-90)" class="yt" text-anchor="middle">Chlorine (mg kg⁻¹)</text>
<polyline points="375.7,331.0 435.7,357.0 495.7,367.7" stroke="#ffcc99" class="ln"/>
<polyline points="375.7,353.0 435.7,345.0 495.7,361.0" stroke="#006633" class="ln"/>
<polyline points="375.7,354.0 435.7,335.0 495.7,343.4" stroke="#996633" class="ln"/>
<polyline points="375.7,343.4 435.7,344.9 495.7,344.0" stroke="#000099" class="ln"/>
<polyline points="375.7,347.0 435.7,349.6 495.7,364.5" stroke="#ff1a1a" class="ln"/>
<polyline points="375.7,325.1 435.7,353.8 495.7,363.5" stroke="#b30000" class="ln"/>
<polyline points="375.7,316.0 435.7,338.2 495.7,330.8" stroke="#000000" class="ln"/>
<polyline points="375.7,364.5 435.7,367.3 495.7,367.3" stroke="#800080" class="ln"/>
<polyline points="375.7,350.8 435.7,324.5 495.7,351.2" stroke="#33cc33" class="ln"/>
<polyline points="375.7,377.8 435.7,344.9 495.7,357.6" stroke="#1a1aff" class="ln"/>
<polyline points="375.7,368.7 435.7,302.3 495.7,299.8" stroke="#cc33ff" class="ln"/>
<polyline points="375.7,362.4 435.7,298.1 495.7,329.7" stroke="#ff9933" class="ln"/>
<path d="M375.7 329.4V332.6M375.09999999999997 329.4H376.3M375.09999999999997 332.6H376.3" stroke="#ffcc99" class="eb"/>
<circle cx="375.7" cy="331.0" r="1.05" fill="#ffcc99"/>
<path d="M435.7 355.4V358.6M435.09999999999997 355.4H436.3M435.09999999999997 358.6H436.3" stroke="#ffcc99" class="eb"/>
<circle cx="435.7" cy="357.0" r="1.05" fill="#ffcc99"/>
<path d="M495.7 366.1V369.3M495.09999999999997 366.1H496.3M495.09999999999997 369.3H496.3" stroke="#ffcc99" class="eb"/>
<circle cx="495.7" cy="367.7" r="1.05" fill="#ffcc99"/>
<path d="M375.7 351.4V354.6M375.09999999999997 351.4H376.3M375.09999999999997 354.6H376.3" stroke="#006633" class="eb"/>
<circle cx="375.7" cy="353.0" r="1.05" fill="#006633"/>
<path d="M435.7 343.4V346.6M435.09999999999997 343.4H436.3M435.09999999999997 346.6H436.3" stroke="#006633" class="eb"/>
<circle cx="435.7" cy="345.0" r="1.05" fill="#006633"/>
<path d="M495.7 359.4V362.6M495.09999999999997 359.4H496.3M495.09999999999997 362.6H496.3" stroke="#006633" class="eb"/>
<circle cx="495.7" cy="361.0" r="1.05" fill="#006633"/>
<path d="M375.7 352.4V355.6M375.09999999999997 352.4H376.3M375.09999999999997 355.6H376.3" stroke="#996633" class="eb"/>
<rect x="374.70" y="353.00" width="2" height="2" fill="#996633"/>
<path d="M435.7 333.4V336.6M435.09999999999997 333.4H436.3M435.09999999999997 336.6H436.3" stroke="#996633" class="eb"/>
<rect x="434.70" y="334.00" width="2" height="2" fill="#996633"/>
<path d="M495.7 341.8V345.0M495.09999999999997 341.8H496.3M495.09999999999997 345.0H496.3" stroke="#996633" class="eb"/>
<rect x="494.70" y="342.40" width="2" height="2" fill="#996633"/>
<path d="M375.7 341.8V345.0M375.09999999999997 341.8H376.3M375.09999999999997 345.0H376.3" stroke="#000099" class="eb"/>
<path d="M375.70 342.10L376.90 344.30H374.50Z" fill="#000099"/>
<path d="M435.7 343.3V346.5M435.09999999999997 343.3H436.3M435.09999999999997 346.5H436.3" stroke="#000099" class="eb"/>
<path d="M435.70 343.60L436.90 345.80H434.50Z" fill="#000099"/>
<path d="M495.7 342.4V345.6M495.09999999999997 342.4H496.3M495.09999999999997 345.6H496.3" stroke="#000099" class="eb"/>
<path d="M495.70 342.70L496.90 344.90H494.50Z" fill="#000099"/>
<path d="M375.7 345.4V348.6M375.09999999999997 345.4H376.3M375.09999999999997 348.6H376.3" stroke="#ff1a1a" class="eb"/>
<circle cx="375.7" cy="347.0" r="1.05" fill="#ff1a1a"/>
<path d="M435.7 348.0V351.2M435.09999999999997 348.0H436.3M435.09999999999997 351.2H436.3" stroke="#ff1a1a" class="eb"/>
<circle cx="435.7" cy="349.6" r="1.05" fill="#ff1a1a"/>
<path d="M495.7 362.9V366.1M495.09999999999997 362.9H496.3M495.09999999999997 366.1H496.3" stroke="#ff1a1a" class="eb"/>
<circle cx="495.7" cy="364.5" r="1.05" fill="#ff1a1a"/>
<path d="M375.7 323.5V326.7M375.09999999999997 323.5H376.3M375.09999999999997 326.7H376.3" stroke="#b30000" class="eb"/>
<circle cx="375.7" cy="325.1" r="1.05" fill="#b30000"/>
<path d="M435.7 352.2V355.4M435.09999999999997 352.2H436.3M435.09999999999997 355.4H436.3" stroke="#b30000" class="eb"/>
<circle cx="435.7" cy="353.8" r="1.05" fill="#b30000"/>
<path d="M495.7 361.9V365.1M495.09999999999997 361.9H496.3M495.09999999999997 365.1H496.3" stroke="#b30000" class="eb"/>
<circle cx="495.7" cy="363.5" r="1.05" fill="#b30000"/>
<path d="M375.7 310.0V322.0M375.09999999999997 310.0H376.3M375.09999999999997 322.0H376.3" stroke="#000000" class="eb"/>
<circle cx="375.7" cy="316.0" r="1.05" fill="#000000"/>
<path d="M435.7 336.6V339.8M435.09999999999997 336.6H436.3M435.09999999999997 339.8H436.3" stroke="#000000" class="eb"/>
<circle cx="435.7" cy="338.2" r="1.05" fill="#000000"/>
<path d="M495.7 329.2V332.4M495.09999999999997 329.2H496.3M495.09999999999997 332.4H496.3" stroke="#000000" class="eb"/>
<circle cx="495.7" cy="330.8" r="1.05" fill="#000000"/>
<path d="M375.7 362.9V366.1M375.09999999999997 362.9H376.3M375.09999999999997 366.1H376.3" stroke="#800080" class="eb"/>
<circle cx="375.7" cy="364.5" r="1.05" fill="#800080"/>
<path d="M435.7 365.7V368.9M435.09999999999997 365.7H436.3M435.09999999999997 368.9H436.3" stroke="#800080" class="eb"/>
<circle cx="435.7" cy="367.3" r="1.05" fill="#800080"/>
<path d="M495.7 365.7V368.9M495.09999999999997 365.7H496.3M495.09999999999997 368.9H496.3" stroke="#800080" class="eb"/>
<circle cx="495.7" cy="367.3" r="1.05" fill="#800080"/>
<path d="M375.7 349.2V352.4M375.09999999999997 349.2H376.3M375.09999999999997 352.4H376.3" stroke="#33cc33" class="eb"/>
<circle cx="375.7" cy="350.8" r="1.05" fill="#33cc33"/>
<path d="M435.7 320.5V328.5M435.09999999999997 320.5H436.3M435.09999999999997 328.5H436.3" stroke="#33cc33" class="eb"/>
<circle cx="435.7" cy="324.5" r="1.05" fill="#33cc33"/>
<path d="M495.7 349.6V352.8M495.09999999999997 349.6H496.3M495.09999999999997 352.8H496.3" stroke="#33cc33" class="eb"/>
<circle cx="495.7" cy="351.2" r="1.05" fill="#33cc33"/>
<path d="M375.7 376.2V379.4M375.09999999999997 376.2H376.3M375.09999999999997 379.4H376.3" stroke="#1a1aff" class="eb"/>
<circle cx="375.7" cy="377.8" r="1.05" fill="#1a1aff"/>
<path d="M435.7 343.3V346.5M435.09999999999997 343.3H436.3M435.09999999999997 346.5H436.3" stroke="#1a1aff" class="eb"/>
<circle cx="435.7" cy="344.9" r="1.05" fill="#1a1aff"/>
<path d="M495.7 356.0V359.2M495.09999999999997 356.0H496.3M495.09999999999997 359.2H496.3" stroke="#1a1aff" class="eb"/>
<circle cx="495.7" cy="357.6" r="1.05" fill="#1a1aff"/>
<path d="M375.7 367.1V370.3M375.09999999999997 367.1H376.3M375.09999999999997 370.3H376.3" stroke="#cc33ff" class="eb"/>
<circle cx="375.7" cy="368.7" r="1.05" fill="#cc33ff"/>
<path d="M435.7 298.3V306.3M435.09999999999997 298.3H436.3M435.09999999999997 306.3H436.3" stroke="#cc33ff" class="eb"/>
<circle cx="435.7" cy="302.3" r="1.05" fill="#cc33ff"/>
<path d="M495.7 297.8V301.8M495.09999999999997 297.8H496.3M495.09999999999997 301.8H496.3" stroke="#cc33ff" class="eb"/>
<circle cx="495.7" cy="299.8" r="1.05" fill="#cc33ff"/>
<path d="M375.7 360.8V364.0M375.09999999999997 360.8H376.3M375.09999999999997 364.0H376.3" stroke="#ff9933" class="eb"/>
<circle cx="375.7" cy="362.4" r="1.05" fill="#ff9933"/>
<path d="M435.7 295.6V300.6M435.09999999999997 295.6H436.3M435.09999999999997 300.6H436.3" stroke="#ff9933" class="eb"/>
<circle cx="435.7" cy="298.1" r="1.05" fill="#ff9933"/>
<path d="M495.7 328.1V331.3M495.09999999999997 328.1H496.3M495.09999999999997 331.3H496.3" stroke="#ff9933" class="eb"/>
<circle cx="495.7" cy="329.7" r="1.05" fill="#ff9933"/>
<text x="370.4" y="320.80" class="lb" fill="#000000">b</text>
<text x="370.4" y="326.68" class="lb" fill="#b30000">c</text>
<text x="370.4" y="332.56" class="lb" fill="#ffcc99">d-g</text>
<text x="370.4" y="338.44" class="lb" fill="#000099">f-h</text>
<text x="370.4" y="344.32" class="lb" fill="#ff1a1a">h-i</text>
<text x="370.4" y="350.20" class="lb" fill="#33cc33">h-k</text>
<text x="370.4" y="356.08" class="lb" fill="#006633">k-m</text>
<text x="370.4" y="361.96" class="lb" fill="#996633">l-q</text>
<text x="370.4" y="367.84" class="lb" fill="#ff9933">p-r</text>
<text x="370.4" y="373.72" class="lb" fill="#800080">r-t</text>
<text x="370.4" y="379.60" class="lb" fill="#cc33ff">t</text>
<text x="370.4" y="385.48" class="lb" fill="#1a1aff">u</text>
<text x="437.0" y="320.80" class="lb" fill="#cc33ff">a</text>
<text x="437.0" y="326.68" class="lb" fill="#ff9933">b</text>
<text x="437.0" y="332.56" class="lb" fill="#33cc33">c</text>
<text x="437.0" y="338.44" class="lb" fill="#996633">de</text>
<text x="437.0" y="344.32" class="lb" fill="#000000">ef</text>
<text x="437.0" y="350.20" class="lb" fill="#006633">f-i</text>
<text x="437.0" y="356.08" class="lb" fill="#000099">g-l</text>
<text x="437.0" y="361.96" class="lb" fill="#1a1aff">h-l</text>
<text x="437.0" y="367.84" class="lb" fill="#ff1a1a">k-l</text>
<text x="437.0" y="373.72" class="lb" fill="#b30000">l-o</text>
<text x="437.0" y="379.60" class="lb" fill="#ffcc99">m-p</text>
<text x="437.0" y="385.48" class="lb" fill="#800080">st</text>
<text x="497.0" y="320.80" class="lb" fill="#cc33ff">a</text>
<text x="497.0" y="326.68" class="lb" fill="#ff9933">cd</text>
<text x="497.0" y="332.56" class="lb" fill="#000000">d</text>
<text x="497.0" y="338.44" class="lb" fill="#996633">fh</text>
<text x="497.0" y="344.32" class="lb" fill="#000099">g-j</text>
<text x="497.0" y="350.20" class="lb" fill="#33cc33">k-o</text>
<text x="497.0" y="356.08" class="lb" fill="#1a1aff">n-p</text>
<text x="497.0" y="361.96" class="lb" fill="#006633">o-q</text>
<text x="497.0" y="367.84" class="lb" fill="#b30000">p-r</text>
<text x="497.0" y="373.72" class="lb" fill="#ff1a1a">q-t</text>
<text x="497.0" y="379.60" class="lb" fill="#800080">r-t</text>
<text x="497.0" y="385.48" class="lb" fill="#ffcc99">st</text>
<text x="534.7" y="280.8" class="ttl">L.</text>
<path d="M549.7 288.9V386.0H679.7" class="ax"/>
<path d="M548.7 289.40H549.7" class="ax"/>
<text transform="translate(548.50 291.20)" class="tk" text-anchor="end">900</text>
<path d="M548.7 313.55H549.7" class="ax"/>
<text transform="translate(548.50 315.35)" class="tk" text-anchor="end">700</text>
<path d="M548.7 337.70H549.7" class="ax"/>
<text transform="translate(548.50 339.50)" class="tk" text-anchor="end">500</text>
<path d="M548.7 361.85H549.7" class="ax"/>
<text transform="translate(548.50 363.65)" class="tk" text-anchor="end">300</text>
<path d="M548.7 386.00H549.7" class="ax"/>
<text transform="translate(548.50 387.80)" class="tk" text-anchor="end">100</text>
<path d="M555.7 386.0V387.0" class="ax"/>
<text x="555.90" y="391.70" class="tk" text-anchor="middle">2020</text>
<path d="M615.7 386.0V387.0" class="ax"/>
<text x="615.90" y="391.70" class="tk" text-anchor="middle">2021</text>
<path d="M675.7 386.0V387.0" class="ax"/>
<text x="675.90" y="391.70" class="tk" text-anchor="middle">2022</text>
<text x="613.1" y="398.10" class="yt yrs" text-anchor="middle">Years</text>
<text transform="translate(536.7 336.9) rotate(-90)" class="yt" text-anchor="middle">Sodium (mg kg⁻¹)</text>
<polyline points="555.7,373.0 615.7,366.0 675.7,367.0" stroke="#ffcc99" class="ln"/>
<polyline points="555.7,378.0 615.7,365.5 675.7,366.0" stroke="#cc33ff" class="ln"/>
<polyline points="555.7,377.5 615.7,364.0 675.7,368.0" stroke="#33cc33" class="ln"/>
<polyline points="555.7,372.0 615.7,366.0 675.7,368.0" stroke="#800080" class="ln"/>
<polyline points="555.7,375.0 615.7,365.0 675.7,370.0" stroke="#996633" class="ln"/>
<polyline points="555.7,371.0 615.7,368.0 675.7,373.0" stroke="#000099" class="ln"/>
<polyline points="555.7,367.5 615.7,363.2 675.7,367.9" stroke="#006633" class="ln"/>
<polyline points="555.7,349.6 615.7,365.0 675.7,366.0" stroke="#ff9933" class="ln"/>
<polyline points="555.7,347.8 615.7,365.5 675.7,368.5" stroke="#b30000" class="ln"/>
<polyline points="555.7,345.9 615.7,366.8 675.7,369.1" stroke="#000000" class="ln"/>
<polyline points="555.7,376.1 615.7,369.1 675.7,379.6" stroke="#1a1aff" class="ln"/>
<polyline points="555.7,305.2 615.7,364.4 675.7,379.2" stroke="#ff1a1a" class="ln"/>
<path d="M555.7 371.4V374.6M555.1 371.4H556.3000000000001M555.1 374.6H556.3000000000001" stroke="#ffcc99" class="eb"/>
<circle cx="555.7" cy="373.0" r="1.05" fill="#ffcc99"/>
<path d="M615.7 364.4V367.6M615.1 364.4H616.3000000000001M615.1 367.6H616.3000000000001" stroke="#ffcc99" class="eb"/>
<circle cx="615.7" cy="366.0" r="1.05" fill="#ffcc99"/>
<path d="M675.7 365.4V368.6M675.1 365.4H676.3000000000001M675.1 368.6H676.3000000000001" stroke="#ffcc99" class="eb"/>
<circle cx="675.7" cy="367.0" r="1.05" fill="#ffcc99"/>
<path d="M555.7 376.4V379.6M555.1 376.4H556.3000000000001M555.1 379.6H556.3000000000001" stroke="#cc33ff" class="eb"/>
<circle cx="555.7" cy="378.0" r="1.05" fill="#cc33ff"/>
<path d="M615.7 363.9V367.1M615.1 363.9H616.3000000000001M615.1 367.1H616.3000000000001" stroke="#cc33ff" class="eb"/>
<circle cx="615.7" cy="365.5" r="1.05" fill="#cc33ff"/>
<path d="M675.7 364.4V367.6M675.1 364.4H676.3000000000001M675.1 367.6H676.3000000000001" stroke="#cc33ff" class="eb"/>
<circle cx="675.7" cy="366.0" r="1.05" fill="#cc33ff"/>
<path d="M555.7 375.9V379.1M555.1 375.9H556.3000000000001M555.1 379.1H556.3000000000001" stroke="#33cc33" class="eb"/>
<circle cx="555.7" cy="377.5" r="1.05" fill="#33cc33"/>
<path d="M615.7 362.4V365.6M615.1 362.4H616.3000000000001M615.1 365.6H616.3000000000001" stroke="#33cc33" class="eb"/>
<circle cx="615.7" cy="364.0" r="1.05" fill="#33cc33"/>
<path d="M675.7 366.4V369.6M675.1 366.4H676.3000000000001M675.1 369.6H676.3000000000001" stroke="#33cc33" class="eb"/>
<circle cx="675.7" cy="368.0" r="1.05" fill="#33cc33"/>
<path d="M555.7 370.4V373.6M555.1 370.4H556.3000000000001M555.1 373.6H556.3000000000001" stroke="#800080" class="eb"/>
<circle cx="555.7" cy="372.0" r="1.05" fill="#800080"/>
<path d="M615.7 364.4V367.6M615.1 364.4H616.3000000000001M615.1 367.6H616.3000000000001" stroke="#800080" class="eb"/>
<circle cx="615.7" cy="366.0" r="1.05" fill="#800080"/>
<path d="M675.7 366.4V369.6M675.1 366.4H676.3000000000001M675.1 369.6H676.3000000000001" stroke="#800080" class="eb"/>
<circle cx="675.7" cy="368.0" r="1.05" fill="#800080"/>
<path d="M555.7 373.4V376.6M555.1 373.4H556.3000000000001M555.1 376.6H556.3000000000001" stroke="#996633" class="eb"/>
<rect x="554.70" y="374.00" width="2" height="2" fill="#996633"/>
<path d="M615.7 363.4V366.6M615.1 363.4H616.3000000000001M615.1 366.6H616.3000000000001" stroke="#996633" class="eb"/>
<rect x="614.70" y="364.00" width="2" height="2" fill="#996633"/>
<path d="M675.7 368.4V371.6M675.1 368.4H676.3000000000001M675.1 371.6H676.3000000000001" stroke="#996633" class="eb"/>
<rect x="674.70" y="369.00" width="2" height="2" fill="#996633"/>
<path d="M555.7 369.4V372.6M555.1 369.4H556.3000000000001M555.1 372.6H556.3000000000001" stroke="#000099" class="eb"/>
<path d="M555.70 369.70L556.90 371.90H554.50Z" fill="#000099"/>
<path d="M615.7 366.4V369.6M615.1 366.4H616.3000000000001M615.1 369.6H616.3000000000001" stroke="#000099" class="eb"/>
<path d="M615.70 366.70L616.90 368.90H614.50Z" fill="#000099"/>
<path d="M675.7 371.4V374.6M675.1 371.4H676.3000000000001M675.1 374.6H676.3000000000001" stroke="#000099" class="eb"/>
<path d="M675.70 371.70L676.90 373.90H674.50Z" fill="#000099"/>
<path d="M555.7 365.9V369.1M555.1 365.9H556.3000000000001M555.1 369.1H556.3000000000001" stroke="#006633" class="eb"/>
<circle cx="555.7" cy="367.5" r="1.05" fill="#006633"/>
<path d="M615.7 361.6V364.8M615.1 361.6H616.3000000000001M615.1 364.8H616.3000000000001" stroke="#006633" class="eb"/>
<circle cx="615.7" cy="363.2" r="1.05" fill="#006633"/>
<path d="M675.7 366.3V369.5M675.1 366.3H676.3000000000001M675.1 369.5H676.3000000000001" stroke="#006633" class="eb"/>
<circle cx="675.7" cy="367.9" r="1.05" fill="#006633"/>
<path d="M555.7 348.0V351.2M555.1 348.0H556.3000000000001M555.1 351.2H556.3000000000001" stroke="#ff9933" class="eb"/>
<circle cx="555.7" cy="349.6" r="1.05" fill="#ff9933"/>
<path d="M615.7 363.4V366.6M615.1 363.4H616.3000000000001M615.1 366.6H616.3000000000001" stroke="#ff9933" class="eb"/>
<circle cx="615.7" cy="365.0" r="1.05" fill="#ff9933"/>
<path d="M675.7 364.4V367.6M675.1 364.4H676.3000000000001M675.1 367.6H676.3000000000001" stroke="#ff9933" class="eb"/>
<circle cx="675.7" cy="366.0" r="1.05" fill="#ff9933"/>
<path d="M555.7 346.2V349.4M555.1 346.2H556.3000000000001M555.1 349.4H556.3000000000001" stroke="#b30000" class="eb"/>
<circle cx="555.7" cy="347.8" r="1.05" fill="#b30000"/>
<path d="M615.7 363.9V367.1M615.1 363.9H616.3000000000001M615.1 367.1H616.3000000000001" stroke="#b30000" class="eb"/>
<circle cx="615.7" cy="365.5" r="1.05" fill="#b30000"/>
<path d="M675.7 366.9V370.1M675.1 366.9H676.3000000000001M675.1 370.1H676.3000000000001" stroke="#b30000" class="eb"/>
<circle cx="675.7" cy="368.5" r="1.05" fill="#b30000"/>
<path d="M555.7 344.3V347.5M555.1 344.3H556.3000000000001M555.1 347.5H556.3000000000001" stroke="#000000" class="eb"/>
<circle cx="555.7" cy="345.9" r="1.05" fill="#000000"/>
<path d="M615.7 365.2V368.4M615.1 365.2H616.3000000000001M615.1 368.4H616.3000000000001" stroke="#000000" class="eb"/>
<circle cx="615.7" cy="366.8" r="1.05" fill="#000000"/>
<path d="M675.7 367.5V370.7M675.1 367.5H676.3000000000001M675.1 370.7H676.3000000000001" stroke="#000000" class="eb"/>
<circle cx="675.7" cy="369.1" r="1.05" fill="#000000"/>
<path d="M555.7 374.5V377.7M555.1 374.5H556.3000000000001M555.1 377.7H556.3000000000001" stroke="#1a1aff" class="eb"/>
<circle cx="555.7" cy="376.1" r="1.05" fill="#1a1aff"/>
<path d="M615.7 367.5V370.7M615.1 367.5H616.3000000000001M615.1 370.7H616.3000000000001" stroke="#1a1aff" class="eb"/>
<circle cx="615.7" cy="369.1" r="1.05" fill="#1a1aff"/>
<path d="M675.7 378.0V381.2M675.1 378.0H676.3000000000001M675.1 381.2H676.3000000000001" stroke="#1a1aff" class="eb"/>
<circle cx="675.7" cy="379.6" r="1.05" fill="#1a1aff"/>
<path d="M555.7 290.7V319.7M555.1 290.7H556.3000000000001M555.1 319.7H556.3000000000001" stroke="#ff1a1a" class="eb"/>
<circle cx="555.7" cy="305.2" r="1.05" fill="#ff1a1a"/>
<path d="M615.7 362.8V366.0M615.1 362.8H616.3000000000001M615.1 366.0H616.3000000000001" stroke="#ff1a1a" class="eb"/>
<circle cx="615.7" cy="364.4" r="1.05" fill="#ff1a1a"/>
<path d="M675.7 377.6V380.8M675.1 377.6H676.3000000000001M675.1 380.8H676.3000000000001" stroke="#ff1a1a" class="eb"/>
<circle cx="675.7" cy="379.2" r="1.05" fill="#ff1a1a"/>
<text x="550.7" y="320.80" class="lb" fill="#ff1a1a">a</text>
<text x="550.7" y="326.68" class="lb" fill="#000000">b</text>
<text x="550.7" y="332.56" class="lb" fill="#b30000">b</text>
<text x="550.7" y="338.44" class="lb" fill="#006633">c-j</text>
<text x="550.7" y="344.32" class="lb" fill="#000099">i-o</text>
<text x="550.7" y="350.20" class="lb" fill="#ff9933">i-o</text>
<text x="550.7" y="356.08" class="lb" fill="#800080">k-q</text>
<text x="550.7" y="361.96" class="lb" fill="#996633">l-q</text>
<text x="550.7" y="367.84" class="lb" fill="#ffcc99">m-s</text>
<text x="550.7" y="373.72" class="lb" fill="#1a1aff">o-s</text>
<text x="550.7" y="379.60" class="lb" fill="#cc33ff">pr</text>
<text x="550.7" y="385.48" class="lb" fill="#33cc33">qr</text>
<text x="617.0" y="320.80" class="lb" fill="#33cc33">c</text>
<text x="617.0" y="326.68" class="lb" fill="#ff9933">cd</text>
<text x="617.0" y="332.56" class="lb" fill="#cc33ff">c-e</text>
<text x="617.0" y="338.44" class="lb" fill="#ffcc99">c-f</text>
<text x="617.0" y="344.32" class="lb" fill="#ff1a1a">c-g</text>
<text x="617.0" y="350.20" class="lb" fill="#800080">c-g</text>
<text x="617.0" y="356.08" class="lb" fill="#996633">c-i</text>
<text x="617.0" y="361.96" class="lb" fill="#000000">c-j</text>
<text x="617.0" y="367.84" class="lb" fill="#b30000">d-k</text>
<text x="617.0" y="373.72" class="lb" fill="#006633">d-k</text>
<text x="617.0" y="379.60" class="lb" fill="#000099">d-l</text>
<text x="617.0" y="385.48" class="lb" fill="#1a1aff">e-m</text>
<text x="677.0" y="320.80" class="lb" fill="#cc33ff">c-h</text>
<text x="677.0" y="326.68" class="lb" fill="#ff9933">c-i</text>
<text x="677.0" y="332.56" class="lb" fill="#000000">d-k</text>
<text x="677.0" y="338.44" class="lb" fill="#b30000">e-m</text>
<text x="677.0" y="344.32" class="lb" fill="#006633">f-m</text>
<text x="677.0" y="350.20" class="lb" fill="#800080">g-m</text>
<text x="677.0" y="356.08" class="lb" fill="#33cc33">h-m</text>
<text x="677.0" y="361.96" class="lb" fill="#ffcc99">i-n</text>
<text x="677.0" y="367.84" class="lb" fill="#996633">j-p</text>
<text x="677.0" y="373.72" class="lb" fill="#000099">m-q</text>
<text x="677.0" y="379.60" class="lb" fill="#1a1aff">r</text>
<text x="677.0" y="385.48" class="lb" fill="#ff1a1a">r</text>
<path d="M86.1 426.5H92.5" stroke="#1a1aff" stroke-width="0.5"/>
<circle cx="89.3" cy="426.5" r="1.1" fill="#1a1aff"/>
<text x="96.1" y="428.3" class="lg">Chisel</text>
<text x="96.1" y="434.3" class="lg">Olive Blackwater</text>
<path d="M135.10000000000002 426.5H141.5" stroke="#ff1a1a" stroke-width="0.5"/>
<circle cx="138.3" cy="426.5" r="1.1" fill="#ff1a1a"/>
<text x="144.6" y="428.3" class="lg">Chisel</text>
<text x="144.6" y="434.3" class="lg">Antep Radish</text>
<path d="M179.5 426.5H185.89999999999998" stroke="#33cc33" stroke-width="0.5"/>
<circle cx="182.7" cy="426.5" r="1.1" fill="#33cc33"/>
<text x="188.5" y="428.3" class="lg">Chisel</text>
<text x="188.5" y="434.3" class="lg">Broccoli</text>
<path d="M219.20000000000002 426.5H225.6" stroke="#cc33ff" stroke-width="0.5"/>
<circle cx="222.4" cy="426.5" r="1.1" fill="#cc33ff"/>
<text x="228.2" y="428.3" class="lg">Chisel</text>
<text x="228.2" y="434.3" class="lg">Control</text>
<path d="M252.70000000000002 426.5H259.1" stroke="#ff9933" stroke-width="0.5"/>
<circle cx="255.9" cy="426.5" r="1.1" fill="#ff9933"/>
<text x="262.7" y="428.3" class="lg">Disc Harrow</text>
<text x="262.7" y="434.3" class="lg">Olive Blackwater</text>
<path d="M302.2 426.5H308.59999999999997" stroke="#000000" stroke-width="0.5"/>
<circle cx="305.4" cy="426.5" r="1.1" fill="#000000"/>
<text x="311.3" y="428.3" class="lg">Disc Harrow</text>
<text x="311.3" y="434.3" class="lg">Antep Radish</text>
<path d="M345.40000000000003 426.5H351.8" stroke="#996633" stroke-width="0.5"/>
<rect x="347.5" y="425.4" width="2.2" height="2.2" fill="#996633"/>
<text x="355.9" y="428.3" class="lg">Disc Harrow</text>
<text x="355.9" y="434.3" class="lg">Broccoli</text>
<path d="M386.1 426.5H392.5" stroke="#000099" stroke-width="0.5"/>
<path d="M389.3 425.2L390.6 427.5H388.0Z" fill="#000099"/>
<text x="396.0" y="428.3" class="lg">Disc Harrow</text>
<text x="396.0" y="434.3" class="lg">Control</text>
<path d="M432.8 426.5H439.2" stroke="#800080" stroke-width="0.5"/>
<circle cx="436.0" cy="426.5" r="1.1" fill="#800080"/>
<text x="442.2" y="428.3" class="lg">No Tillage</text>
<text x="442.2" y="434.3" class="lg">Olive Blackwater</text>
<path d="M481.8 426.5H488.2" stroke="#b30000" stroke-width="0.5"/>
<circle cx="485.0" cy="426.5" r="1.1" fill="#b30000"/>
<text x="491.3" y="428.3" class="lg">No Tillage</text>
<text x="491.3" y="434.3" class="lg">Antep Radish</text>
<path d="M526.8 426.5H533.2" stroke="#006633" stroke-width="0.5"/>
<circle cx="530.0" cy="426.5" r="1.1" fill="#006633"/>
<text x="536.0" y="428.3" class="lg">No Tillage</text>
<text x="536.0" y="434.3" class="lg">Broccoli</text>
<path d="M566.1999999999999 426.5H572.6" stroke="#ffcc99" stroke-width="0.5"/>
<circle cx="569.4" cy="426.5" r="1.1" fill="#ffcc99"/>
<text x="575.9" y="428.3" class="lg">No Tillage</text>
<text x="575.9" y="434.3" class="lg">Control</text>
</svg>
</body></html>
